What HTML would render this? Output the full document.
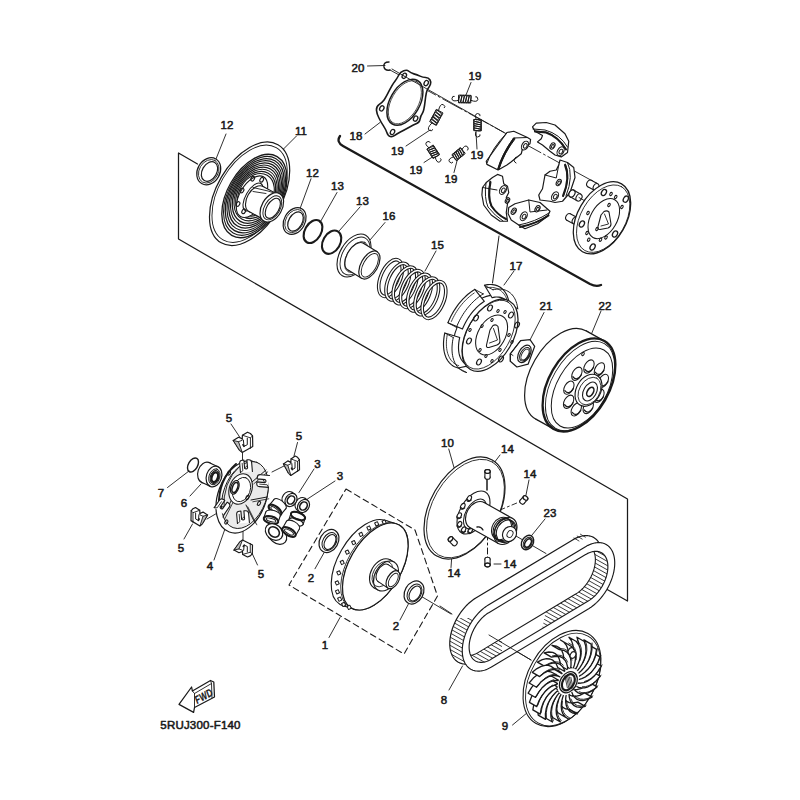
<!DOCTYPE html>
<html><head><meta charset="utf-8"><style>
html,body{margin:0;padding:0;background:#fff;}
svg{display:block;}
text{font-family:"Liberation Sans",sans-serif;fill:#1a1a1a;stroke:#1a1a1a;stroke-width:0.55;}
</style></head><body>
<svg width="800" height="800" viewBox="0 0 800 800" stroke="#1a1a1a" fill="none" stroke-linecap="round" stroke-linejoin="round">
<rect x="0" y="0" width="800" height="800" fill="#fff" stroke="none"/>
<path d="M197.5,164 L178.5,153 L178.5,239 L627.5,499 L627.5,601 L571,569" stroke-width="1.25" fill="none" />
<path d="M340,136 Q336,142 343,146 L590,284 Q596,287 601,285" stroke-width="2.3" fill="none" />
<path d="M499,236 Q496,258 492.5,283" stroke-width="1" fill="none" />
<path d="M346,489 L415,530 L437.5,596 L404,654 L289,585 Z" stroke-width="1.1" fill="none" stroke-dasharray="6,4"/>
<line x1="390" y1="70" x2="598" y2="184" stroke-width="0.9" stroke-dasharray="22,3,2,3"/>
<line x1="489" y1="635" x2="531" y2="660" stroke-width="0.9"/>
<line x1="440" y1="606" x2="452" y2="614" stroke-width="0.9"/>
<line x1="419" y1="595" x2="451" y2="614" stroke-width="0.9"/>
<line x1="510" y1="532.5" x2="546" y2="553.5" stroke-width="0.9"/>
<line x1="487.5" y1="478" x2="487.5" y2="560" stroke-width="1" stroke-dasharray="6,3,2,3"/>
<line x1="500" y1="510" x2="524" y2="500" stroke-width="0.9" stroke-dasharray="5,3,2,3"/>
<line x1="452.5" y1="541" x2="480" y2="526" stroke-width="0.9"/>
<line x1="226" y1="134" x2="216" y2="159" stroke-width="0.9"/>
<line x1="296.5" y1="136" x2="283.75" y2="148.75" stroke-width="0.9"/>
<line x1="311" y1="178.75" x2="300" y2="208.75" stroke-width="0.9"/>
<line x1="337" y1="192.5" x2="320" y2="222.5" stroke-width="0.9"/>
<line x1="360" y1="207" x2="339.4" y2="230.6" stroke-width="0.9"/>
<line x1="385" y1="222.5" x2="370" y2="240" stroke-width="0.9"/>
<line x1="436" y1="251" x2="425" y2="271" stroke-width="0.9"/>
<line x1="367.5" y1="66" x2="385" y2="65.5" stroke-width="0.9"/>
<line x1="365" y1="134" x2="380" y2="122.5" stroke-width="0.9"/>
<line x1="471" y1="82.5" x2="466" y2="95" stroke-width="0.9"/>
<line x1="406" y1="146" x2="430" y2="130" stroke-width="0.9"/>
<line x1="424" y1="162.5" x2="434" y2="156" stroke-width="0.9"/>
<line x1="477" y1="149" x2="476" y2="132.5" stroke-width="0.9"/>
<line x1="454" y1="172.5" x2="457.5" y2="159" stroke-width="0.9"/>
<line x1="514" y1="271" x2="504" y2="285" stroke-width="0.9"/>
<line x1="544" y1="312.5" x2="530" y2="340" stroke-width="0.9"/>
<line x1="601" y1="311" x2="591" y2="335" stroke-width="0.9"/>
<line x1="231" y1="424" x2="240" y2="437.5" stroke-width="0.9"/>
<line x1="297.5" y1="442.5" x2="294" y2="456" stroke-width="0.9"/>
<line x1="314" y1="469" x2="299" y2="492.5" stroke-width="0.9"/>
<line x1="335" y1="481" x2="307.5" y2="499" stroke-width="0.9"/>
<line x1="167.5" y1="487.5" x2="189" y2="471" stroke-width="0.9"/>
<line x1="190" y1="496" x2="201" y2="484" stroke-width="0.9"/>
<line x1="184" y1="539" x2="192.5" y2="524" stroke-width="0.9"/>
<line x1="214" y1="560" x2="226" y2="526" stroke-width="0.9"/>
<line x1="257.5" y1="565" x2="251" y2="551" stroke-width="0.9"/>
<line x1="315" y1="568.75" x2="325" y2="551" stroke-width="0.9"/>
<line x1="400" y1="620" x2="410" y2="601" stroke-width="0.9"/>
<line x1="329" y1="637.5" x2="340" y2="617.5" stroke-width="0.9"/>
<line x1="448.75" y1="449" x2="454" y2="467.5" stroke-width="0.9"/>
<line x1="500" y1="455" x2="488.75" y2="470" stroke-width="0.9"/>
<line x1="529" y1="480" x2="526" y2="495" stroke-width="0.9"/>
<line x1="451" y1="567.5" x2="452.5" y2="546" stroke-width="0.9"/>
<line x1="494" y1="564" x2="501" y2="564" stroke-width="0.9"/>
<line x1="545" y1="519" x2="530" y2="537.5" stroke-width="0.9"/>
<line x1="449" y1="690" x2="462.5" y2="666" stroke-width="0.9"/>
<line x1="512.5" y1="725" x2="527.5" y2="712.5" stroke-width="0.9"/>
<ellipse cx="208.75" cy="171.25" rx="14.19" ry="11.17" transform="rotate(-60 208.75 171.25)" stroke-width="1.2" fill="#fff" />
<ellipse cx="208.75" cy="171.25" rx="12.48" ry="9.46" transform="rotate(-60 208.75 171.25)" stroke-width="0.8" fill="none" />
<ellipse cx="209.5" cy="171.5" rx="10.51" ry="7.27" transform="rotate(-60 209.5 171.5)" stroke-width="1.2" fill="none" />
<ellipse cx="249.6" cy="193.75" rx="56.7" ry="32.77" transform="rotate(-60 249.6 193.75)" stroke-width="1.2" fill="#fff" />
<ellipse cx="249.6" cy="193.75" rx="53.2" ry="30.75" transform="rotate(-60 249.6 193.75)" stroke-width="0.9" fill="none" />
<ellipse cx="254.4" cy="196" rx="45.44" ry="27" transform="rotate(-60 254.4 196)" stroke-width="1.3" fill="none" />
<ellipse cx="254.57" cy="195.87" rx="42.9" ry="25.88" transform="rotate(-60 254.57 195.87)" stroke-width="1.1" fill="none" />
<ellipse cx="254.73" cy="195.73" rx="40.36" ry="24.76" transform="rotate(-60 254.73 195.73)" stroke-width="1.3" fill="none" />
<ellipse cx="254.9" cy="195.6" rx="37.82" ry="23.64" transform="rotate(-60 254.9 195.6)" stroke-width="1.1" fill="none" />
<ellipse cx="255.07" cy="195.47" rx="35.27" ry="22.51" transform="rotate(-60 255.07 195.47)" stroke-width="1.3" fill="none" />
<ellipse cx="255.23" cy="195.33" rx="32.73" ry="21.38" transform="rotate(-60 255.23 195.33)" stroke-width="1.1" fill="none" />
<ellipse cx="255.4" cy="195.2" rx="30.19" ry="20.24" transform="rotate(-60 255.4 195.2)" stroke-width="1.3" fill="none" />
<ellipse cx="255.57" cy="195.07" rx="27.64" ry="19.1" transform="rotate(-60 255.57 195.07)" stroke-width="1.1" fill="none" />
<ellipse cx="255.73" cy="194.93" rx="25.09" ry="17.95" transform="rotate(-60 255.73 194.93)" stroke-width="1.3" fill="none" />
<ellipse cx="255.9" cy="194.8" rx="22.54" ry="16.79" transform="rotate(-60 255.9 194.8)" stroke-width="1.1" fill="none" />
<ellipse cx="252" cy="196.7" rx="22.93" ry="12.39" transform="rotate(-60 252 196.7)" stroke-width="1.1" fill="#fff" />
<ellipse cx="252.7" cy="178.7" rx="2.48" ry="1.66" transform="rotate(-60 252.7 178.7)" stroke-width="1.1" fill="none" />
<ellipse cx="261.7" cy="179.8" rx="2.48" ry="1.66" transform="rotate(-60 261.7 179.8)" stroke-width="1.1" fill="none" />
<ellipse cx="242" cy="190.5" rx="2.48" ry="1.66" transform="rotate(-60 242 190.5)" stroke-width="1.1" fill="none" />
<ellipse cx="238" cy="204" rx="2.48" ry="1.66" transform="rotate(-60 238 204)" stroke-width="1.1" fill="none" />
<ellipse cx="243.7" cy="211.3" rx="2.48" ry="1.66" transform="rotate(-60 243.7 211.3)" stroke-width="1.1" fill="none" />
<ellipse cx="253" cy="197" rx="15.62" ry="7.21" transform="rotate(-60 253 197)" stroke-width="1.0" fill="none" />
<ellipse cx="256" cy="199" rx="14.36" ry="8.85" transform="rotate(-60 256 199)" stroke-width="1.1" fill="#fff" />
<path d="M263.01,186.47 L278.81,194.87 L264.79,219.93 L248.99,211.53 Z" stroke-width="0" fill="#fff" stroke="none"/>
<line x1="263.01" y1="186.47" x2="278.81" y2="194.87" stroke-width="1.1"/>
<line x1="248.99" y1="211.53" x2="264.79" y2="219.93" stroke-width="1.1"/>
<ellipse cx="271.8" cy="207.4" rx="15.82" ry="10.11" transform="rotate(-60 271.8 207.4)" stroke-width="1.2" fill="#fff" />
<ellipse cx="272.3" cy="207.8" rx="13.11" ry="7.78" transform="rotate(-60 272.3 207.8)" stroke-width="0.9" fill="none" />
<ellipse cx="272.8" cy="208.3" rx="11.01" ry="6.05" transform="rotate(-60 272.8 208.3)" stroke-width="1.1" fill="none" />
<path d="M253,187.5 L268,191 L273.5,192.7 M253,191.5 L266,193.5" stroke-width="0.9" fill="none" />
<ellipse cx="294.6" cy="221" rx="14.26" ry="10.42" transform="rotate(-60 294.6 221)" stroke-width="1.2" fill="#fff" />
<ellipse cx="294.6" cy="221" rx="12.4" ry="8.76" transform="rotate(-60 294.6 221)" stroke-width="0.8" fill="none" />
<ellipse cx="295.5" cy="221.5" rx="10.38" ry="6.72" transform="rotate(-60 295.5 221.5)" stroke-width="1.2" fill="none" />
<ellipse cx="313" cy="231.5" rx="12.42" ry="8.15" transform="rotate(-60 313 231.5)" stroke-width="2.1" fill="none" />
<ellipse cx="331.6" cy="242.2" rx="12.44" ry="8.59" transform="rotate(-60 331.6 242.2)" stroke-width="2.1" fill="none" />
<ellipse cx="354" cy="255.5" rx="23.43" ry="14.23" transform="rotate(-60 354 255.5)" stroke-width="1.1" fill="#fff" />
<ellipse cx="355" cy="256" rx="20.71" ry="12.53" transform="rotate(-60 355 256)" stroke-width="0.9" fill="none" />
<ellipse cx="356.5" cy="257" rx="16.98" ry="9.79" transform="rotate(-60 356.5 257)" stroke-width="0.8" fill="none" />
<ellipse cx="355.5" cy="256.5" rx="15.42" ry="8.4" transform="rotate(-60 355.5 256.5)" stroke-width="1.1" fill="#fff" />
<path d="M363.31,243.2 L377.21,251.7 L361.59,278.3 L347.69,269.8 Z" stroke-width="0" fill="#fff" stroke="none"/>
<line x1="363.31" y1="243.2" x2="377.21" y2="251.7" stroke-width="1.1"/>
<line x1="347.69" y1="269.8" x2="361.59" y2="278.3" stroke-width="1.1"/>
<ellipse cx="369.4" cy="265" rx="15.42" ry="8.4" transform="rotate(-60 369.4 265)" stroke-width="1.2" fill="#fff" />
<ellipse cx="369.8" cy="265.3" rx="13.11" ry="6.43" transform="rotate(-60 369.8 265.3)" stroke-width="0.9" fill="none" />
<ellipse cx="390.5" cy="278" rx="19.5" ry="9.8" transform="rotate(-67 390.5 278)" stroke-width="3.6" fill="none" />
<ellipse cx="390.5" cy="278" rx="19.5" ry="9.8" transform="rotate(-67 390.5 278)" stroke-width="1.5" fill="none" stroke="#fff" />
<ellipse cx="397.75" cy="281.67" rx="19.5" ry="9.8" transform="rotate(-67 397.75 281.67)" stroke-width="3.6" fill="none" />
<ellipse cx="397.75" cy="281.67" rx="19.5" ry="9.8" transform="rotate(-67 397.75 281.67)" stroke-width="1.5" fill="none" stroke="#fff" />
<ellipse cx="405" cy="285.33" rx="19.5" ry="9.8" transform="rotate(-67 405 285.33)" stroke-width="3.6" fill="none" />
<ellipse cx="405" cy="285.33" rx="19.5" ry="9.8" transform="rotate(-67 405 285.33)" stroke-width="1.5" fill="none" stroke="#fff" />
<ellipse cx="412.25" cy="289" rx="19.5" ry="9.8" transform="rotate(-67 412.25 289)" stroke-width="3.6" fill="none" />
<ellipse cx="412.25" cy="289" rx="19.5" ry="9.8" transform="rotate(-67 412.25 289)" stroke-width="1.5" fill="none" stroke="#fff" />
<ellipse cx="419.5" cy="292.67" rx="19.5" ry="9.8" transform="rotate(-67 419.5 292.67)" stroke-width="3.6" fill="none" />
<ellipse cx="419.5" cy="292.67" rx="19.5" ry="9.8" transform="rotate(-67 419.5 292.67)" stroke-width="1.5" fill="none" stroke="#fff" />
<ellipse cx="426.75" cy="296.33" rx="19.5" ry="9.8" transform="rotate(-67 426.75 296.33)" stroke-width="3.6" fill="none" />
<ellipse cx="426.75" cy="296.33" rx="19.5" ry="9.8" transform="rotate(-67 426.75 296.33)" stroke-width="1.5" fill="none" stroke="#fff" />
<ellipse cx="434" cy="300" rx="19.5" ry="9.8" transform="rotate(-67 434 300)" stroke-width="3.6" fill="none" />
<ellipse cx="434" cy="300" rx="19.5" ry="9.8" transform="rotate(-67 434 300)" stroke-width="1.5" fill="none" stroke="#fff" />
<path d="M398.7,75.25 Q400.4,71.9 403.75,70.75 Q407.1,69.6 408.8,71.3 Q410.5,73 413.85,73.85 Q417.2,74.7 420.05,76.1 Q422.9,77.5 425.7,77.5 Q428.5,77.5 429.9,79.75 Q431.3,82 430.45,84.25 Q429.6,86.5 427.9,88.75 Q426.2,91 425.1,101.1 Q424,111.2 422.3,113.45 Q420.6,115.7 420.05,119.1 Q419.5,122.5 416.7,123.6 Q413.9,124.7 408.8,127.55 Q403.7,130.4 400.35,132.05 Q397,133.7 394.75,135.4 Q392.5,137.1 390.25,136.55 Q388,136 386.85,132.6 Q385.7,129.2 383.45,125.85 Q381.2,122.5 378.95,118 Q376.7,113.5 376.45,110.1 Q376.2,106.7 379.3,104.45 Q382.4,102.2 384.05,99.95 Q385.7,97.7 389.1,90.95 Q392.5,84.2 394.75,81.4 Q397,78.6 398.7,75.25 Z" stroke-width="1.6" fill="#fff" />
<ellipse cx="404.9" cy="102.25" rx="25.13" ry="14.88" transform="rotate(-60 404.9 102.25)" stroke-width="1.5" fill="none" />
<ellipse cx="404.9" cy="102.25" rx="23.71" ry="13.42" transform="rotate(-60 404.9 102.25)" stroke-width="0.7" fill="none" />
<ellipse cx="404.3" cy="75.8" rx="2.78" ry="1.97" transform="rotate(-60 404.3 75.8)" stroke-width="1.3" fill="none" />
<ellipse cx="426.2" cy="83.1" rx="2.78" ry="1.97" transform="rotate(-60 426.2 83.1)" stroke-width="1.3" fill="none" />
<ellipse cx="381.8" cy="108.4" rx="2.78" ry="1.97" transform="rotate(-60 381.8 108.4)" stroke-width="1.3" fill="none" />
<ellipse cx="415.6" cy="118.6" rx="2.78" ry="1.97" transform="rotate(-60 415.6 118.6)" stroke-width="1.3" fill="none" />
<ellipse cx="392.5" cy="132" rx="2.78" ry="1.97" transform="rotate(-60 392.5 132)" stroke-width="1.3" fill="none" />
<line x1="392" y1="69" x2="404" y2="76" stroke-width="0.9"/>
<line x1="404" y1="76" x2="504" y2="132.5" stroke-width="0.9"/>
<path d="M389,62 Q383,62 384,67 Q385,71 390,70" stroke-width="1.4" fill="none" />
<path d="M458.82,102.73 L470.82,102.97 L470.98,95.37 L458.98,95.13 Z" stroke-width="1.0" fill="#fff" />
<ellipse cx="460.1" cy="98.95" rx="3.8" ry="1.15" transform="rotate(103.1457628381751 460.1 98.95)" stroke-width="1.0" fill="none" />
<ellipse cx="462.5" cy="99" rx="3.8" ry="1.15" transform="rotate(103.1457628381751 462.5 99)" stroke-width="1.0" fill="none" />
<ellipse cx="464.9" cy="99.05" rx="3.8" ry="1.15" transform="rotate(103.1457628381751 464.9 99.05)" stroke-width="1.0" fill="none" />
<ellipse cx="467.3" cy="99.1" rx="3.8" ry="1.15" transform="rotate(103.1457628381751 467.3 99.1)" stroke-width="1.0" fill="none" />
<ellipse cx="469.7" cy="99.15" rx="3.8" ry="1.15" transform="rotate(103.1457628381751 469.7 99.15)" stroke-width="1.0" fill="none" />
<path d="M458.88,100.13 Q452.33,102.3 451.9,98.79 Q452.47,95.3 454.25,96.24" stroke-width="1.0" fill="none" />
<path d="M470.88,100.37 Q477.33,102.8 477.9,99.31 Q477.47,95.8 475.65,96.66" stroke-width="1.0" fill="none" />
<path d="M436.15,109.69 L429.67,121.69 L436.35,125.31 L442.83,113.31 Z" stroke-width="1.0" fill="#fff" />
<ellipse cx="438.84" cy="112.7" rx="3.8" ry="1.15" transform="rotate(-139.6309537067214 438.84 112.7)" stroke-width="1.0" fill="none" />
<ellipse cx="437.55" cy="115.1" rx="3.8" ry="1.15" transform="rotate(-139.6309537067214 437.55 115.1)" stroke-width="1.0" fill="none" />
<ellipse cx="436.25" cy="117.5" rx="3.8" ry="1.15" transform="rotate(-139.6309537067214 436.25 117.5)" stroke-width="1.0" fill="none" />
<ellipse cx="434.95" cy="119.9" rx="3.8" ry="1.15" transform="rotate(-139.6309537067214 434.95 119.9)" stroke-width="1.0" fill="none" />
<ellipse cx="433.66" cy="122.3" rx="3.8" ry="1.15" transform="rotate(-139.6309537067214 433.66 122.3)" stroke-width="1.0" fill="none" />
<path d="M438.43,110.93 Q439.92,103.34 443.24,104.56 Q446.08,106.66 444.43,107.82" stroke-width="1.0" fill="none" />
<path d="M431.95,122.93 Q426.42,128.34 429.26,130.44 Q432.58,131.66 432.64,129.65" stroke-width="1.0" fill="none" />
<path d="M473.7,119.85 L473.7,130.65 L481.3,130.65 L481.3,119.85 Z" stroke-width="1.0" fill="#fff" />
<ellipse cx="477.5" cy="120.93" rx="3.8" ry="1.15" transform="rotate(192.0 477.5 120.93)" stroke-width="1.0" fill="none" />
<ellipse cx="477.5" cy="123.09" rx="3.8" ry="1.15" transform="rotate(192.0 477.5 123.09)" stroke-width="1.0" fill="none" />
<ellipse cx="477.5" cy="125.25" rx="3.8" ry="1.15" transform="rotate(192.0 477.5 125.25)" stroke-width="1.0" fill="none" />
<ellipse cx="477.5" cy="127.41" rx="3.8" ry="1.15" transform="rotate(192.0 477.5 127.41)" stroke-width="1.0" fill="none" />
<ellipse cx="477.5" cy="129.57" rx="3.8" ry="1.15" transform="rotate(192.0 477.5 129.57)" stroke-width="1.0" fill="none" />
<path d="M476.3,119.85 Q474,114 477.5,113.5 Q481,114 480.1,115.8" stroke-width="1.0" fill="none" />
<path d="M476.3,130.65 Q474,136.5 477.5,137 Q481,136.5 480.1,134.7" stroke-width="1.0" fill="none" />
<path d="M427.07,149.45 L433.07,158.61 L439.43,154.45 L433.43,145.29 Z" stroke-width="1.0" fill="#fff" />
<ellipse cx="430.85" cy="148.28" rx="3.8" ry="1.15" transform="rotate(158.79724813072374 430.85 148.28)" stroke-width="1.0" fill="none" />
<ellipse cx="432.05" cy="150.12" rx="3.8" ry="1.15" transform="rotate(158.79724813072374 432.05 150.12)" stroke-width="1.0" fill="none" />
<ellipse cx="433.25" cy="151.95" rx="3.8" ry="1.15" transform="rotate(158.79724813072374 433.25 151.95)" stroke-width="1.0" fill="none" />
<ellipse cx="434.45" cy="153.78" rx="3.8" ry="1.15" transform="rotate(158.79724813072374 434.45 153.78)" stroke-width="1.0" fill="none" />
<ellipse cx="435.65" cy="155.62" rx="3.8" ry="1.15" transform="rotate(158.79724813072374 435.65 155.62)" stroke-width="1.0" fill="none" />
<path d="M429.25,148.02 Q424.07,144.32 426.73,141.98 Q429.93,140.48 430.16,142.48" stroke-width="1.0" fill="none" />
<path d="M435.25,157.19 Q436.57,163.42 439.77,161.92 Q442.43,159.58 440.69,158.57" stroke-width="1.0" fill="none" />
<path d="M460.08,147.86 L451.82,154.82 L456.72,160.64 L464.98,153.68 Z" stroke-width="1.0" fill="#fff" />
<ellipse cx="461.7" cy="151.47" rx="3.8" ry="1.15" transform="rotate(-118.13166762531483 461.7 151.47)" stroke-width="1.0" fill="none" />
<ellipse cx="460.05" cy="152.86" rx="3.8" ry="1.15" transform="rotate(-118.13166762531483 460.05 152.86)" stroke-width="1.0" fill="none" />
<ellipse cx="458.4" cy="154.25" rx="3.8" ry="1.15" transform="rotate(-118.13166762531483 458.4 154.25)" stroke-width="1.0" fill="none" />
<ellipse cx="456.75" cy="155.64" rx="3.8" ry="1.15" transform="rotate(-118.13166762531483 456.75 155.64)" stroke-width="1.0" fill="none" />
<ellipse cx="455.1" cy="157.03" rx="3.8" ry="1.15" transform="rotate(-118.13166762531483 455.1 157.03)" stroke-width="1.0" fill="none" />
<path d="M461.75,149.85 Q464.74,144.32 467.38,146.68 Q469.26,149.68 467.3,150.15" stroke-width="1.0" fill="none" />
<path d="M453.5,156.81 Q447.54,158.82 449.42,161.82 Q452.06,164.18 452.85,162.33" stroke-width="1.0" fill="none" />
<path d="M486.25,161.25 L486.9,164.4 L498.1,170 L506.9,165 L511,162 L521.25,153.75 L522.5,148.75 L530,143.75 L530.6,139.4 L527.5,137.5 L513.75,131.25 L506.9,132.5 Z" stroke-width="1.2" fill="#fff" />
<path d="M487,163 Q492,148 506.9,133 M497.5,169.5 Q502,154 513.5,138 L527.5,137.5 M499,169 Q504,153 515,139" stroke-width="1.0" fill="none" />
<ellipse cx="525" cy="145.6" rx="4.77" ry="3.06" transform="rotate(-60 525 145.6)" stroke-width="1.1" fill="#fff" />
<ellipse cx="525.3" cy="145.9" rx="2.49" ry="1.64" transform="rotate(-60 525.3 145.9)" stroke-width="1.0" fill="none" />
<path d="M516,157 Q512,161 516,163" stroke-width="1.0" fill="none" />
<path d="M532.5,126.9 L536.25,123.1 L546.25,122.5 L555,125 L565,133.75 L568.75,141.25 L567.5,152.5 L561.25,156.9 L555,155 L550,151.25 L542.5,145 L537.5,141.9 L541.25,138.75 L542.5,135.6 L535,131.25 Z" stroke-width="1.2" fill="#fff" />
<path d="M533,129 L545,130 Q560,134 567.5,147 M535,131 L546,132 Q558,136 566,149" stroke-width="1.0" fill="none" />
<ellipse cx="560.6" cy="151.25" rx="4.77" ry="3.06" transform="rotate(-60 560.6 151.25)" stroke-width="1.1" fill="#fff" />
<ellipse cx="560.9" cy="151.55" rx="2.49" ry="1.64" transform="rotate(-60 560.9 151.55)" stroke-width="1.0" fill="none" />
<ellipse cx="552.5" cy="146" rx="3.41" ry="2.19" transform="rotate(-60 552.5 146)" stroke-width="1.1" fill="#fff" />
<ellipse cx="552.8" cy="146.3" rx="1.78" ry="1.17" transform="rotate(-60 552.8 146.3)" stroke-width="1.0" fill="none" />
<path d="M560,160 L567.5,162.5 L573.75,167.5 L575,177.5 L570,192.5 L562.5,201.25 L555,202.5 L550,201.25 L540,200 L538.75,195 L542.5,188.75 L545,175 L550,171.25 L556.25,170 L558.75,165 Z" stroke-width="1.2" fill="#fff" />
<path d="M567.5,162.5 Q574,176 566,196 M565.5,164 Q571,177 563.5,196 M545,175 L556.25,178 L558.75,165" stroke-width="1.0" fill="none" />
<ellipse cx="555" cy="196.25" rx="4.77" ry="3.06" transform="rotate(-60 555 196.25)" stroke-width="1.1" fill="#fff" />
<ellipse cx="555.3" cy="196.55" rx="2.49" ry="1.64" transform="rotate(-60 555.3 196.55)" stroke-width="1.0" fill="none" />
<ellipse cx="558.75" cy="182.5" rx="3.41" ry="2.19" transform="rotate(-60 558.75 182.5)" stroke-width="1.1" fill="#fff" />
<ellipse cx="559.05" cy="182.8" rx="1.78" ry="1.17" transform="rotate(-60 559.05 182.8)" stroke-width="1.0" fill="none" />
<path d="M486.25,182.5 L492.5,177.5 L497.5,174.4 L502.5,176.25 L503.75,183.75 L507.5,186.25 L508.75,192.5 L506.25,197.5 L507.5,203.75 L506.25,212.5 L507.5,221.25 L500,221.25 L491.25,215 L483.75,205 L481.9,195 L482.5,187.5 Z" stroke-width="1.2" fill="#fff" />
<path d="M486,183 Q484,198 488,207 Q495,216 503,221 M490,181 Q487,197 491,206 Q497,215 506,219 M482.5,187.5 L497,190" stroke-width="1.0" fill="none" />
<ellipse cx="503" cy="190" rx="4.77" ry="3.06" transform="rotate(-60 503 190)" stroke-width="1.1" fill="#fff" />
<ellipse cx="503.3" cy="190.3" rx="2.49" ry="1.64" transform="rotate(-60 503.3 190.3)" stroke-width="1.0" fill="none" />
<ellipse cx="507.5" cy="200.5" rx="2.96" ry="1.9" transform="rotate(-60 507.5 200.5)" stroke-width="1.1" fill="#fff" />
<ellipse cx="507.8" cy="200.8" rx="1.54" ry="1.02" transform="rotate(-60 507.8 200.8)" stroke-width="1.0" fill="none" />
<path d="M508.75,207.5 L515,203.75 L528.75,200 L540,202.5 L550,211.25 L547.5,216.25 L537.5,223.75 L525,228.75 L518.75,225 L511.25,220 L508.1,213.75 Z" stroke-width="1.2" fill="#fff" />
<path d="M518.75,225 Q535,222 549,213 M520,227 Q536,224 548.5,215 M528.75,200 L530,212 L547,210" stroke-width="1.0" fill="none" />
<ellipse cx="523.75" cy="216.25" rx="4.77" ry="3.06" transform="rotate(-60 523.75 216.25)" stroke-width="1.1" fill="#fff" />
<ellipse cx="524.05" cy="216.55" rx="2.49" ry="1.64" transform="rotate(-60 524.05 216.55)" stroke-width="1.0" fill="none" />
<ellipse cx="513.75" cy="211.25" rx="3.41" ry="2.19" transform="rotate(-60 513.75 211.25)" stroke-width="1.1" fill="#fff" />
<ellipse cx="514.05" cy="211.55" rx="1.78" ry="1.17" transform="rotate(-60 514.05 211.55)" stroke-width="1.0" fill="none" />
<ellipse cx="537.5" cy="208.75" rx="3.41" ry="2.19" transform="rotate(-60 537.5 208.75)" stroke-width="1.1" fill="#fff" />
<ellipse cx="537.8" cy="209.05" rx="1.78" ry="1.17" transform="rotate(-60 537.8 209.05)" stroke-width="1.0" fill="none" />
<path d="M498.5,169 Q503,154 514,138.5" stroke-width="2.0" fill="none" />
<path d="M535,131.5 L546,132.5 Q558,136.5 566,149.5" stroke-width="2.0" fill="none" />
<path d="M565,165 Q570.5,177.5 563,196" stroke-width="2.0" fill="none" />
<path d="M490.5,182 Q487.5,197 491.5,206 Q497.5,215 506,219" stroke-width="2.0" fill="none" />
<path d="M520,227 Q536,224 548.5,215.5" stroke-width="2.0" fill="none" />
<ellipse cx="589.5" cy="183.5" rx="3.6" ry="2.6" transform="rotate(-62 589.5 183.5)" stroke-width="1.1" fill="#fff" />
<path d="M591.2,180.33 L597.7,183.83 L594.3,190.17 L587.8,186.67 Z" stroke-width="0" fill="#fff" stroke="none"/>
<line x1="591.2" y1="180.33" x2="597.7" y2="183.83" stroke-width="1.1"/>
<line x1="587.8" y1="186.67" x2="594.3" y2="190.17" stroke-width="1.1"/>
<ellipse cx="596" cy="187" rx="3.6" ry="2.6" transform="rotate(-62 596 187)" stroke-width="1.1" fill="#fff" />
<ellipse cx="572" cy="193.5" rx="3.8" ry="2.8" transform="rotate(-62 572 193.5)" stroke-width="1.1" fill="#fff" />
<path d="M573.84,190.18 L580.84,194.18 L577.16,200.82 L570.16,196.82 Z" stroke-width="0" fill="#fff" stroke="none"/>
<line x1="573.84" y1="190.18" x2="580.84" y2="194.18" stroke-width="1.1"/>
<line x1="570.16" y1="196.82" x2="577.16" y2="200.82" stroke-width="1.1"/>
<ellipse cx="579" cy="197.5" rx="3.8" ry="2.8" transform="rotate(-62 579 197.5)" stroke-width="1.1" fill="#fff" />
<ellipse cx="572" cy="193.5" rx="3.8" ry="2.8" transform="rotate(-62 572 193.5)" stroke-width="1.2" fill="#fff" />
<line x1="579" y1="197.5" x2="585" y2="201" stroke-width="0.9"/>
<ellipse cx="568.5" cy="217" rx="3.6" ry="2.6" transform="rotate(-62 568.5 217)" stroke-width="1.1" fill="#fff" />
<path d="M570.2,213.83 L576.7,217.33 L573.3,223.67 L566.8,220.17 Z" stroke-width="0" fill="#fff" stroke="none"/>
<line x1="570.2" y1="213.83" x2="576.7" y2="217.33" stroke-width="1.1"/>
<line x1="566.8" y1="220.17" x2="573.3" y2="223.67" stroke-width="1.1"/>
<ellipse cx="575" cy="220.5" rx="3.6" ry="2.6" transform="rotate(-62 575 220.5)" stroke-width="1.1" fill="#fff" />
<ellipse cx="602" cy="217.8" rx="39.14" ry="24.24" transform="rotate(-60 602 217.8)" stroke-width="1.25" fill="#fff" />
<ellipse cx="603.2" cy="218.6" rx="36.84" ry="22.32" transform="rotate(-60 603.2 218.6)" stroke-width="0.8" fill="none" />
<ellipse cx="603.8" cy="218.6" rx="21.8" ry="13.21" transform="rotate(-60 603.8 218.6)" stroke-width="1.05" fill="none" />
<path d="M604,211.5 Q607,210 609,212 L611,224 Q611,227 608,228 L600,229.5 Q597,229.5 598,226.5 L601,215 Z" stroke-width="1.1" fill="none" />
<path d="M604.5,214 L608.5,224 L601,226" stroke-width="0.9" fill="none" />
<ellipse cx="603.9" cy="192.5" rx="3.32" ry="2.31" transform="rotate(-60 603.9 192.5)" stroke-width="1.25" fill="none" />
<ellipse cx="625.8" cy="199.2" rx="3.32" ry="2.31" transform="rotate(-60 625.8 199.2)" stroke-width="1.25" fill="none" />
<ellipse cx="581.9" cy="224" rx="3.32" ry="2.31" transform="rotate(-60 581.9 224)" stroke-width="1.25" fill="none" />
<ellipse cx="615" cy="234" rx="3.32" ry="2.31" transform="rotate(-60 615 234)" stroke-width="1.25" fill="none" />
<ellipse cx="592.6" cy="247" rx="3.32" ry="2.31" transform="rotate(-60 592.6 247)" stroke-width="1.25" fill="none" />
<ellipse cx="611" cy="194" rx="1.73" ry="1.12" transform="rotate(-60 611 194)" stroke-width="1.05" fill="none" />
<ellipse cx="615.7" cy="197" rx="1.73" ry="1.12" transform="rotate(-60 615.7 197)" stroke-width="1.05" fill="none" />
<ellipse cx="588" cy="213" rx="1.73" ry="1.12" transform="rotate(-60 588 213)" stroke-width="1.05" fill="none" />
<ellipse cx="621.9" cy="207" rx="1.73" ry="1.12" transform="rotate(-60 621.9 207)" stroke-width="1.05" fill="none" />
<ellipse cx="587" cy="233" rx="1.73" ry="1.12" transform="rotate(-60 587 233)" stroke-width="1.05" fill="none" />
<ellipse cx="588.7" cy="239.7" rx="1.73" ry="1.12" transform="rotate(-60 588.7 239.7)" stroke-width="1.05" fill="none" />
<ellipse cx="606" cy="237.5" rx="1.73" ry="1.12" transform="rotate(-60 606 237.5)" stroke-width="1.05" fill="none" />
<ellipse cx="600.5" cy="239.7" rx="1.73" ry="1.12" transform="rotate(-60 600.5 239.7)" stroke-width="1.05" fill="none" />
<ellipse cx="609" cy="205" rx="1.73" ry="1.12" transform="rotate(-60 609 205)" stroke-width="1.05" fill="none" />
<ellipse cx="597" cy="229" rx="1.73" ry="1.12" transform="rotate(-60 597 229)" stroke-width="1.05" fill="none" />
<ellipse cx="480" cy="330.5" rx="38.38" ry="21.93" transform="rotate(-60 480 330.5)" stroke-width="1.1" fill="#fff" />
<path d="M498.35,296.82 L508.35,301.62 L471.65,368.98 L461.65,364.18 Z" stroke-width="0" fill="#fff" stroke="none"/>
<line x1="498.35" y1="296.82" x2="508.35" y2="301.62" stroke-width="1.1"/>
<line x1="461.65" y1="364.18" x2="471.65" y2="368.98" stroke-width="1.1"/>
<path d="M484.48,285.27 L486.14,284.9 L487.78,284.66 L489.39,284.52 L490.96,284.51 L492.5,284.6 L493.98,284.82 L495.42,285.14 L496.81,285.58 L498.15,286.14 L499.42,286.8 L500.63,287.57 L501.78,288.45 L502.85,289.43 L503.86,290.52 L504.78,291.7 L505.64,292.98 L506.41,294.35 L507.1,295.81 L507.7,297.35 L508.22,298.97 L508.65,300.67 L509,302.44 L509.25,304.27 L511.38,312.75 L511.22,311.26 L510.98,309.82 L510.67,308.45 L510.29,307.14 L509.84,305.89 L509.32,304.72 L508.74,303.62 L508.09,302.59 L507.38,301.64 L506.6,300.78 L505.77,300 L504.88,299.31 L503.94,298.7 L502.94,298.19 L501.89,297.76 L500.8,297.43 L499.67,297.19 L498.49,297.05 L497.28,297 L496.03,297.04 L494.76,297.18 L493.46,297.42 L492.13,297.74 Z" stroke-width="1.15" fill="#fff" />
<path d="M492.98,289.77 L494.64,289.4 L496.28,289.16 L497.89,289.02 L499.46,289.01 L501,289.1 L502.48,289.32 L503.92,289.64 L505.31,290.08 L506.65,290.64 L507.92,291.3 L509.13,292.07 L510.28,292.95 L511.35,293.93 L512.36,295.02 L513.28,296.2 L514.14,297.48 L514.91,298.85 L515.6,300.31 L516.2,301.85 L516.72,303.47 L517.15,305.17 L517.5,306.94 L517.75,308.77" stroke-width="1.0" fill="none" />
<path d="M486.6,287.76 L488.14,287.53 L489.66,287.41 L491.14,287.39 L492.59,287.48 L493.99,287.68 L495.35,287.99 L496.66,288.4 L497.92,288.93 L499.12,289.55 L500.26,290.28 L501.34,291.11 L502.36,292.03 L503.3,293.06 L504.18,294.17 L504.98,295.38 L505.71,296.67 L506.36,298.05 L506.93,299.5 L507.42,301.03 L507.83,302.63 L508.15,304.3" stroke-width="0.85" fill="none" />
<line x1="484.48" y1="285.27" x2="492.98" y2="289.77" stroke-width="0.9"/>
<line x1="509.25" y1="304.27" x2="517.75" y2="308.77" stroke-width="0.9"/>
<path d="M447.92,322.8 L448.82,320.62 L449.8,318.45 L450.85,316.31 L451.97,314.19 L453.16,312.1 L454.42,310.06 L455.73,308.06 L457.1,306.11 L458.52,304.21 L460,302.38 L461.52,300.61 L463.07,298.92 L464.67,297.3 L466.3,295.76 L467.96,294.3 L469.64,292.94 L471.33,291.66 L473.05,290.48 L474.77,289.4 L484.36,301.3 L482.97,302.22 L481.59,303.21 L480.22,304.29 L478.86,305.43 L477.52,306.65 L476.2,307.94 L474.9,309.29 L473.64,310.7 L472.4,312.17 L471.2,313.69 L470.03,315.26 L468.91,316.88 L467.83,318.53 L466.79,320.23 L465.81,321.95 L464.88,323.7 L464.01,325.47 L463.19,327.25 L462.43,329.05 Z" stroke-width="1.15" fill="#fff" />
<path d="M456.42,327.3 L457.32,325.12 L458.3,322.95 L459.35,320.81 L460.47,318.69 L461.66,316.6 L462.92,314.56 L464.23,312.56 L465.6,310.61 L467.02,308.71 L468.5,306.88 L470.02,305.11 L471.57,303.42 L473.17,301.8 L474.8,300.26 L476.46,298.8 L478.14,297.44 L479.83,296.16 L481.55,294.98 L483.27,293.9" stroke-width="1.0" fill="none" />
<path d="M451.39,321.45 L452.31,319.41 L453.31,317.38 L454.36,315.39 L455.49,313.42 L456.67,311.49 L457.91,309.6 L459.2,307.76 L460.54,305.98 L461.93,304.25 L463.36,302.58 L464.84,300.98 L466.34,299.46 L467.88,298 L469.44,296.63 L471.02,295.34 L472.63,294.14 L474.24,293.02" stroke-width="0.85" fill="none" />
<line x1="447.92" y1="322.8" x2="456.42" y2="327.3" stroke-width="0.9"/>
<line x1="474.77" y1="289.4" x2="483.27" y2="293.9" stroke-width="0.9"/>
<path d="M458.05,367.98 L456.64,367.57 L455.29,367.06 L454,366.43 L452.76,365.7 L451.6,364.85 L450.5,363.91 L449.47,362.86 L448.52,361.71 L447.64,360.46 L446.84,359.12 L446.12,357.69 L445.49,356.17 L444.94,354.58 L444.48,352.9 L444.11,351.16 L443.82,349.35 L443.63,347.47 L443.52,345.54 L443.5,343.55 L443.58,341.52 L443.75,339.45 L444,337.34 L444.34,335.2 L444.78,333.04 L459.74,337.45 L459.36,339.22 L459.04,340.97 L458.8,342.69 L458.63,344.38 L458.53,346.04 L458.5,347.66 L458.55,349.23 L458.66,350.76 L458.86,352.23 L459.12,353.64 L459.45,355 L459.85,356.29 L460.33,357.51 L460.87,358.66 L461.47,359.74 L462.14,360.73 L462.87,361.65 L463.67,362.49 L464.52,363.24 L465.43,363.9 L466.39,364.48 L467.4,364.96 L468.46,365.36 L469.57,365.66 Z" stroke-width="1.15" fill="#fff" />
<path d="M466.55,372.48 L465.14,372.07 L463.79,371.56 L462.5,370.93 L461.26,370.2 L460.1,369.35 L459,368.41 L457.97,367.36 L457.02,366.21 L456.14,364.96 L455.34,363.62 L454.62,362.19 L453.99,360.67 L453.44,359.08 L452.98,357.4 L452.61,355.66 L452.32,353.85 L452.13,351.97 L452.02,350.04 L452,348.05 L452.08,346.02 L452.25,343.95 L452.5,341.84 L452.84,339.7 L453.28,337.54" stroke-width="1.0" fill="none" />
<path d="M458.77,365.75 L457.49,365.26 L456.27,364.67 L455.11,363.97 L454.01,363.18 L452.97,362.28 L452,361.29 L451.1,360.21 L450.28,359.03 L449.52,357.77 L448.85,356.42 L448.25,354.99 L447.73,353.49 L447.3,351.91 L446.94,350.26 L446.68,348.55 L446.49,346.78 L446.39,344.96 L446.38,343.08 L446.45,341.17 L446.6,339.21 L446.84,337.22 L447.17,335.2" stroke-width="0.85" fill="none" />
<line x1="458.05" y1="367.98" x2="466.55" y2="372.48" stroke-width="0.9"/>
<line x1="444.78" y1="333.04" x2="453.28" y2="337.54" stroke-width="0.9"/>
<ellipse cx="490" cy="335.3" rx="39.4" ry="22.98" transform="rotate(-60 490 335.3)" stroke-width="1.25" fill="#fff" />
<ellipse cx="488.8" cy="334.6" rx="37.87" ry="21.41" transform="rotate(-60 488.8 334.6)" stroke-width="0.8" fill="none" />
<ellipse cx="491.6" cy="335" rx="21.73" ry="13.56" transform="rotate(-60 491.6 335)" stroke-width="1.05" fill="none" />
<path d="M493,325.5 Q496,324 498,326.5 L500,341 Q500,344 497,345 L489,347.5 Q486,348 486.5,345 L490,330 Z" stroke-width="1.1" fill="none" />
<path d="M493.5,328.5 L497.5,340 L489.5,343" stroke-width="0.9" fill="none" />
<ellipse cx="490" cy="308" rx="3.12" ry="2.11" transform="rotate(-60 490 308)" stroke-width="1.2" fill="none" />
<ellipse cx="511" cy="315" rx="3.12" ry="2.11" transform="rotate(-60 511 315)" stroke-width="1.2" fill="none" />
<ellipse cx="469" cy="341" rx="3.12" ry="2.11" transform="rotate(-60 469 341)" stroke-width="1.2" fill="none" />
<ellipse cx="501" cy="359" rx="3.12" ry="2.11" transform="rotate(-60 501 359)" stroke-width="1.2" fill="none" />
<ellipse cx="517" cy="325" rx="3.12" ry="2.11" transform="rotate(-60 517 325)" stroke-width="1.2" fill="none" />
<ellipse cx="479" cy="362" rx="3.12" ry="2.11" transform="rotate(-60 479 362)" stroke-width="1.2" fill="none" />
<ellipse cx="476" cy="318" rx="3.12" ry="2.11" transform="rotate(-60 476 318)" stroke-width="1.2" fill="none" />
<ellipse cx="498" cy="311" rx="1.63" ry="1.02" transform="rotate(-60 498 311)" stroke-width="1.05" fill="none" />
<ellipse cx="505" cy="312" rx="1.63" ry="1.02" transform="rotate(-60 505 312)" stroke-width="1.05" fill="none" />
<ellipse cx="482" cy="326" rx="1.63" ry="1.02" transform="rotate(-60 482 326)" stroke-width="1.05" fill="none" />
<ellipse cx="492" cy="320" rx="1.63" ry="1.02" transform="rotate(-60 492 320)" stroke-width="1.05" fill="none" />
<ellipse cx="480" cy="350" rx="1.63" ry="1.02" transform="rotate(-60 480 350)" stroke-width="1.05" fill="none" />
<ellipse cx="486" cy="356" rx="1.63" ry="1.02" transform="rotate(-60 486 356)" stroke-width="1.05" fill="none" />
<ellipse cx="500" cy="350" rx="1.63" ry="1.02" transform="rotate(-60 500 350)" stroke-width="1.05" fill="none" />
<ellipse cx="509" cy="335" rx="1.63" ry="1.02" transform="rotate(-60 509 335)" stroke-width="1.05" fill="none" />
<ellipse cx="512" cy="342" rx="1.63" ry="1.02" transform="rotate(-60 512 342)" stroke-width="1.05" fill="none" />
<ellipse cx="492" cy="361" rx="1.63" ry="1.02" transform="rotate(-60 492 361)" stroke-width="1.05" fill="none" />
<ellipse cx="470" cy="330" rx="1.63" ry="1.02" transform="rotate(-60 470 330)" stroke-width="1.05" fill="none" />
<path d="M510.3,353.8 L520.6,340.6 L530,339.7 L534.7,346.3 L528.1,364.2 L516.9,367 L510.3,361.3 Z" stroke-width="1.2" fill="#fff" />
<path d="M510.3,353.8 L520.6,340.6 M510.3,353.8 L510.3,361.3 M510.3,353.8 L513,355.5" stroke-width="0.9" fill="none" />
<ellipse cx="524.4" cy="353.8" rx="9.51" ry="5.61" transform="rotate(-60 524.4 353.8)" stroke-width="1.2" fill="#fff" />
<ellipse cx="524.8" cy="354.2" rx="7.47" ry="4.18" transform="rotate(-60 524.8 354.2)" stroke-width="1.0" fill="none" />
<ellipse cx="525" cy="354.5" rx="5.98" ry="3.07" transform="rotate(-60 525 354.5)" stroke-width="0.9" fill="none" />
<ellipse cx="561" cy="375" rx="50.8" ry="30.11" transform="rotate(-60 561 375)" stroke-width="1.2" fill="#fff" />
<path d="M586.15,330.86 L604.15,340.86 L553.85,429.14 L535.85,419.14 Z" stroke-width="0" fill="#fff" stroke="none"/>
<line x1="586.15" y1="330.86" x2="604.15" y2="340.86" stroke-width="1.2"/>
<line x1="535.85" y1="419.14" x2="553.85" y2="429.14" stroke-width="1.2"/>
<ellipse cx="579" cy="385" rx="50.8" ry="30.11" transform="rotate(-60 579 385)" stroke-width="2.3" fill="#fff" />
<ellipse cx="580" cy="386" rx="48.84" ry="28.3" transform="rotate(-60 580 386)" stroke-width="0.9" fill="none" />
<ellipse cx="582" cy="388" rx="43.9" ry="24.87" transform="rotate(-60 582 388)" stroke-width="1.0" fill="none" />
<ellipse cx="599.4" cy="369.3" rx="7.2" ry="4.33" transform="rotate(-60 599.4 369.3)" stroke-width="1.05" fill="#fff" />
<path d="M595.4,372.3 Q599.4,377.3 603.9,370.3" stroke-width="1.3" fill="none" />
<ellipse cx="603.34" cy="380.86" rx="7.2" ry="4.33" transform="rotate(-60 603.34 380.86)" stroke-width="1.05" fill="#fff" />
<path d="M599.34,383.86 Q603.34,388.86 607.84,381.86" stroke-width="1.3" fill="none" />
<ellipse cx="598.93" cy="395.75" rx="7.2" ry="4.33" transform="rotate(-60 598.93 395.75)" stroke-width="1.05" fill="#fff" />
<path d="M594.93,398.75 Q598.93,403.75 603.43,396.75" stroke-width="1.3" fill="none" />
<ellipse cx="588.24" cy="407.02" rx="7.2" ry="4.33" transform="rotate(-60 588.24 407.02)" stroke-width="1.05" fill="#fff" />
<path d="M584.24,410.02 Q588.24,415.02 592.74,408.02" stroke-width="1.3" fill="none" />
<ellipse cx="576.26" cy="409.39" rx="7.2" ry="4.33" transform="rotate(-60 576.26 409.39)" stroke-width="1.05" fill="#fff" />
<path d="M572.26,412.39 Q576.26,417.39 580.76,410.39" stroke-width="1.3" fill="none" />
<ellipse cx="568.61" cy="401.75" rx="7.2" ry="4.33" transform="rotate(-60 568.61 401.75)" stroke-width="1.05" fill="#fff" />
<path d="M564.61,404.75 Q568.61,409.75 573.11,402.75" stroke-width="1.3" fill="none" />
<ellipse cx="568.86" cy="387.67" rx="7.2" ry="4.33" transform="rotate(-60 568.86 387.67)" stroke-width="1.05" fill="#fff" />
<path d="M564.86,390.67 Q568.86,395.67 573.36,388.67" stroke-width="1.3" fill="none" />
<ellipse cx="576.9" cy="373.75" rx="7.2" ry="4.33" transform="rotate(-60 576.9 373.75)" stroke-width="1.05" fill="#fff" />
<path d="M572.9,376.75 Q576.9,381.75 581.4,374.75" stroke-width="1.3" fill="none" />
<ellipse cx="588.96" cy="366.5" rx="7.2" ry="4.33" transform="rotate(-60 588.96 366.5)" stroke-width="1.05" fill="#fff" />
<path d="M584.96,369.5 Q588.96,374.5 593.46,367.5" stroke-width="1.3" fill="none" />
<ellipse cx="588.5" cy="390.3" rx="17.11" ry="12.06" transform="rotate(-60 588.5 390.3)" stroke-width="1.15" fill="#fff" />
<ellipse cx="589.5" cy="391" rx="14.82" ry="10.16" transform="rotate(-60 589.5 391)" stroke-width="0.8" fill="none" />
<ellipse cx="590" cy="391.5" rx="10.22" ry="6.34" transform="rotate(-60 590 391.5)" stroke-width="1.1" fill="none" />
<ellipse cx="590.3" cy="391.8" rx="5.03" ry="2.98" transform="rotate(-60 590.3 391.8)" stroke-width="1.6" fill="none" />
<ellipse cx="583" cy="354" rx="1.73" ry="1.12" transform="rotate(-60 583 354)" stroke-width="1" fill="none" />
<line x1="242.5" y1="450" x2="242.5" y2="462" stroke-width="0.9"/>
<line x1="272" y1="472" x2="286" y2="465" stroke-width="0.9"/>
<line x1="207" y1="519" x2="219" y2="512" stroke-width="0.9"/>
<line x1="243" y1="524" x2="243" y2="541" stroke-width="0.9"/>
<ellipse cx="242" cy="497" rx="37.29" ry="24.11" transform="rotate(-70 242 497)" stroke-width="1.2" fill="#fff" />
<ellipse cx="245" cy="495" rx="34.77" ry="21.57" transform="rotate(-70 245 495)" stroke-width="0.9" fill="#ebebeb" />
<path d="M219,506 Q218,480 236,464" stroke-width="2.0" fill="none" />
<path d="M224,510 Q222,482 240,466" stroke-width="0.9" fill="none" />
<line x1="252" y1="482" x2="266" y2="470" stroke-width="1.0"/>
<line x1="253.8" y1="483.8" x2="267.8" y2="471.8" stroke-width="0.8"/>
<line x1="251" y1="500" x2="267" y2="497" stroke-width="1.0"/>
<line x1="252.8" y1="501.8" x2="268.8" y2="498.8" stroke-width="0.8"/>
<line x1="246" y1="505" x2="255" y2="523" stroke-width="1.0"/>
<line x1="247.8" y1="506.8" x2="256.8" y2="524.8" stroke-width="0.8"/>
<line x1="232" y1="499" x2="223" y2="517" stroke-width="1.0"/>
<line x1="233.8" y1="500.8" x2="224.8" y2="518.8" stroke-width="0.8"/>
<ellipse cx="240.6" cy="489" rx="15.65" ry="11.19" transform="rotate(-70 240.6 489)" stroke-width="1.1" fill="#fff" />
<ellipse cx="241.5" cy="489.5" rx="12.6" ry="8.65" transform="rotate(-70 241.5 489.5)" stroke-width="0.9" fill="none" />
<ellipse cx="234.8" cy="487.3" rx="7.1" ry="3.91" transform="rotate(-70 234.8 487.3)" stroke-width="1.2" fill="#fff" />
<ellipse cx="235" cy="487.5" rx="5.24" ry="2.56" transform="rotate(-70 235 487.5)" stroke-width="1.5" fill="none" />
<ellipse cx="247.4" cy="497.5" rx="2.17" ry="1.36" transform="rotate(-60 247.4 497.5)" stroke-width="1.1" fill="none" />
<ellipse cx="259" cy="503.4" rx="2.17" ry="1.36" transform="rotate(-60 259 503.4)" stroke-width="1.1" fill="none" />
<ellipse cx="226.3" cy="522" rx="2.17" ry="1.36" transform="rotate(-60 226.3 522)" stroke-width="1.1" fill="none" />
<ellipse cx="229" cy="473" rx="2.17" ry="1.36" transform="rotate(-60 229 473)" stroke-width="1.1" fill="none" />
<g transform="translate(246 467) rotate(-5)"><path d="M-6,5 L-6,-4 Q-6,-7 -3,-7 L-1.5,-7 L-1.5,1 Q0,3 1.5,1 L1.5,-7 L3,-7 Q6,-7 6,-4 L6,5" stroke-width="1.1" fill="#fff"/><path d="M-1.5,1 L1,-1 M-6,5 L-3.5,3.5 L-3.5,-4" stroke-width="0.8"/></g>
<g transform="translate(264 481) rotate(-85)"><path d="M-6,5 L-6,-4 Q-6,-7 -3,-7 L-1.5,-7 L-1.5,1 Q0,3 1.5,1 L1.5,-7 L3,-7 Q6,-7 6,-4 L6,5" stroke-width="1.1" fill="#fff"/><path d="M-1.5,1 L1,-1 M-6,5 L-3.5,3.5 L-3.5,-4" stroke-width="0.8"/></g>
<g transform="translate(222 507) rotate(35)"><path d="M-6,5 L-6,-4 Q-6,-7 -3,-7 L-1.5,-7 L-1.5,1 Q0,3 1.5,1 L1.5,-7 L3,-7 Q6,-7 6,-4 L6,5" stroke-width="1.1" fill="#fff"/><path d="M-1.5,1 L1,-1 M-6,5 L-3.5,3.5 L-3.5,-4" stroke-width="0.8"/></g>
<g transform="translate(243 518) rotate(-5)"><path d="M-6,5 L-6,-4 Q-6,-7 -3,-7 L-1.5,-7 L-1.5,1 Q0,3 1.5,1 L1.5,-7 L3,-7 Q6,-7 6,-4 L6,5" stroke-width="1.1" fill="#fff"/><path d="M-1.5,1 L1,-1 M-6,5 L-3.5,3.5 L-3.5,-4" stroke-width="0.8"/></g>
<path d="M233.25,440.48 L238.51,437.25 L242.22,438.76 L242.41,435.23 L247.49,432.2 L250.41,433.51 L252.56,435.84 L252.75,446.54 L242.22,452.4 L239.29,449.98 Z" stroke-width="1.2" fill="#fff" />
<path d="M233.25,440.48 L238.51,441.69 L242.22,452.4 L239.29,449.98 L233.25,440.48" stroke-width="0.9" fill="#bbb" />
<path d="M238.51,441.69 L242.22,440.28 L242.22,438.76 M242.41,435.23 L250.41,437.86 L252.56,435.84 M250.41,437.86 L250.41,448.36" stroke-width="0.9" fill="none" />
<path d="M243.39,440.08 L243.97,446.34 L247.29,444.72 L247.29,438.26" stroke-width="1.0" fill="none" />
<path d="M243.97,446.34 L243,444.72" stroke-width="1.6" fill="none" />
<path d="M283.5,464 L287.82,460.88 L290.86,462.34 L291.02,458.93 L295.18,456 L297.58,457.27 L299.34,459.51 L299.5,469.85 L290.86,475.5 L288.46,473.16 Z" stroke-width="1.2" fill="#fff" />
<path d="M283.5,464 L287.82,465.17 L290.86,475.5 L288.46,473.16 L283.5,464" stroke-width="0.9" fill="#bbb" />
<path d="M287.82,465.17 L290.86,463.8 L290.86,462.34 M291.02,458.93 L297.58,461.46 L299.34,459.51 M297.58,461.46 L297.58,471.6" stroke-width="0.9" fill="none" />
<path d="M291.82,463.61 L292.3,469.65 L295.02,468.09 L295.02,461.85" stroke-width="1.0" fill="none" />
<path d="M292.3,469.65 L291.5,468.09" stroke-width="1.6" fill="none" />
<path d="M207.5,515.09 L203.04,512.12 L199.91,513.51 L199.75,510.27 L195.46,507.5 L192.98,508.7 L191.16,510.83 L191,520.63 L199.91,526 L202.38,523.78 Z" stroke-width="1.2" fill="#fff" />
<path d="M207.5,515.09 L203.04,516.2 L199.91,526 L202.38,523.78 L207.5,515.09" stroke-width="0.9" fill="#bbb" />
<path d="M203.04,516.2 L199.91,514.9 L199.91,513.51 M199.75,510.27 L192.98,512.68 L191.16,510.83 M192.98,512.68 L192.98,522.3" stroke-width="0.9" fill="none" />
<path d="M198.92,514.72 L198.43,520.45 L195.62,518.97 L195.62,513.05" stroke-width="1.0" fill="none" />
<path d="M198.43,520.45 L199.25,518.97" stroke-width="1.6" fill="none" />
<path d="M234,550.03 L239,552.75 L242.51,551.48 L242.69,554.45 L247.5,557 L250.28,555.89 L252.31,553.94 L252.5,544.93 L242.51,540 L239.74,542.04 Z" stroke-width="1.2" fill="#fff" />
<path d="M234,550.03 L239,549.01 L242.51,540 L239.74,542.04 L234,550.03" stroke-width="0.9" fill="#bbb" />
<path d="M239,549.01 L242.51,550.2 L242.51,551.48 M242.69,554.45 L250.28,552.24 L252.31,553.94 M250.28,552.24 L250.28,543.4" stroke-width="0.9" fill="none" />
<path d="M243.62,550.37 L244.18,545.1 L247.32,546.46 L247.32,551.9" stroke-width="1.0" fill="none" />
<path d="M244.18,545.1 L243.25,546.46" stroke-width="1.6" fill="none" />
<ellipse cx="193" cy="465" rx="7.64" ry="4.57" transform="rotate(-60 193 465)" stroke-width="1.4" fill="none" />
<ellipse cx="205.5" cy="472.5" rx="10.6" ry="7.6" transform="rotate(-72 205.5 472.5)" stroke-width="1.15" fill="#fff" />
<path d="M209.41,462.67 L217.91,466.67 L210.09,486.33 L201.59,482.33 Z" stroke-width="0" fill="#fff" stroke="none"/>
<line x1="209.41" y1="462.67" x2="217.91" y2="466.67" stroke-width="1.15"/>
<line x1="201.59" y1="482.33" x2="210.09" y2="486.33" stroke-width="1.15"/>
<ellipse cx="214" cy="476.5" rx="10.6" ry="7.6" transform="rotate(-72 214 476.5)" stroke-width="1.2" fill="#fff" />
<ellipse cx="214.4" cy="476.8" rx="8.2" ry="5.4" transform="rotate(-72 214.4 476.8)" stroke-width="0.9" fill="none" />
<ellipse cx="214.6" cy="477" rx="6.6" ry="4.2" transform="rotate(-72 214.6 477)" stroke-width="1.1" fill="none" />
<ellipse cx="214.8" cy="477.2" rx="5" ry="3" transform="rotate(-72 214.8 477.2)" stroke-width="2.2" fill="none" />
<ellipse cx="301" cy="504" rx="7" ry="5.5" transform="rotate(-55 301 504)" stroke-width="1.1" fill="#fff" />
<path d="M305.24,498.43 L307.74,500.43 L299.26,511.57 L296.76,509.57 Z" stroke-width="0" fill="#fff" stroke="none"/>
<line x1="305.24" y1="498.43" x2="307.74" y2="500.43" stroke-width="1.1"/>
<line x1="296.76" y1="509.57" x2="299.26" y2="511.57" stroke-width="1.1"/>
<ellipse cx="303.5" cy="506" rx="7" ry="5.5" transform="rotate(-55 303.5 506)" stroke-width="1.2" fill="#fff" />
<ellipse cx="303.5" cy="506" rx="4.34" ry="3.41" transform="rotate(-55 303.5 506)" stroke-width="1.6" fill="none" />
<ellipse cx="288" cy="498" rx="7" ry="5.5" transform="rotate(-55 288 498)" stroke-width="1.1" fill="#fff" />
<path d="M291.93,492.21 L294.93,494.21 L287.07,505.79 L284.07,503.79 Z" stroke-width="0" fill="#fff" stroke="none"/>
<line x1="291.93" y1="492.21" x2="294.93" y2="494.21" stroke-width="1.1"/>
<line x1="284.07" y1="503.79" x2="287.07" y2="505.79" stroke-width="1.1"/>
<ellipse cx="291" cy="500" rx="7" ry="5.5" transform="rotate(-55 291 500)" stroke-width="1.2" fill="#fff" />
<ellipse cx="291" cy="500" rx="4.34" ry="3.41" transform="rotate(-55 291 500)" stroke-width="1.6" fill="none" />
<ellipse cx="280" cy="504" rx="7.5" ry="3.6" transform="rotate(38 280 504)" stroke-width="1.1" fill="#fff" />
<path d="M285.88,508.66 L280.88,514.66 L269.12,505.34 L274.12,499.34 Z" stroke-width="0" fill="#fff" stroke="none"/>
<line x1="285.88" y1="508.66" x2="280.88" y2="514.66" stroke-width="1.1"/>
<line x1="274.12" y1="499.34" x2="269.12" y2="505.34" stroke-width="1.1"/>
<ellipse cx="275" cy="510" rx="7.5" ry="3.6" transform="rotate(38 275 510)" stroke-width="1.2" fill="#fff" />
<ellipse cx="275" cy="510" rx="7.5" ry="3.6" transform="rotate(38 275 510)" stroke-width="2.2" fill="none" />
<ellipse cx="275" cy="510" rx="5" ry="1.8" transform="rotate(38 275 510)" stroke-width="1" fill="none" />
<ellipse cx="273" cy="514" rx="7.5" ry="3.6" transform="rotate(15 273 514)" stroke-width="1.1" fill="#fff" />
<path d="M280.21,516.04 L278.21,522.04 L263.79,517.96 L265.79,511.96 Z" stroke-width="0" fill="#fff" stroke="none"/>
<line x1="280.21" y1="516.04" x2="278.21" y2="522.04" stroke-width="1.1"/>
<line x1="265.79" y1="511.96" x2="263.79" y2="517.96" stroke-width="1.1"/>
<ellipse cx="271" cy="520" rx="7.5" ry="3.6" transform="rotate(15 271 520)" stroke-width="1.2" fill="#fff" />
<ellipse cx="271" cy="520" rx="7.5" ry="3.6" transform="rotate(15 271 520)" stroke-width="2" fill="none" />
<ellipse cx="271" cy="520" rx="5" ry="1.6" transform="rotate(15 271 520)" stroke-width="1" fill="none" />
<ellipse cx="278" cy="536" rx="7.5" ry="9.5" transform="rotate(-50 278 536)" stroke-width="1.1" fill="#fff" />
<path d="M272.41,541.04 L268.41,537.04 L279.59,526.96 L283.59,530.96 Z" stroke-width="0" fill="#fff" stroke="none"/>
<line x1="272.41" y1="541.04" x2="268.41" y2="537.04" stroke-width="1.1"/>
<line x1="283.59" y1="530.96" x2="279.59" y2="526.96" stroke-width="1.1"/>
<ellipse cx="274" cy="532" rx="7.5" ry="9.5" transform="rotate(-50 274 532)" stroke-width="1.2" fill="#fff" />
<ellipse cx="274" cy="532" rx="4.65" ry="5.89" transform="rotate(-50 274 532)" stroke-width="1.6" fill="none" />
<ellipse cx="298" cy="516" rx="7.5" ry="3.5" transform="rotate(20 298 516)" stroke-width="1.1" fill="#fff" />
<path d="M305.06,518.52 L303.06,524.52 L288.94,519.48 L290.94,513.48 Z" stroke-width="0" fill="#fff" stroke="none"/>
<line x1="305.06" y1="518.52" x2="303.06" y2="524.52" stroke-width="1.1"/>
<line x1="290.94" y1="513.48" x2="288.94" y2="519.48" stroke-width="1.1"/>
<ellipse cx="296" cy="522" rx="7.5" ry="3.5" transform="rotate(20 296 522)" stroke-width="1.2" fill="#fff" />
<ellipse cx="298" cy="516" rx="7.5" ry="3.5" transform="rotate(20 298 516)" stroke-width="2" fill="none" />
<ellipse cx="293" cy="525" rx="7.5" ry="3.6" transform="rotate(30 293 525)" stroke-width="1.1" fill="#fff" />
<path d="M299.5,528.74 L295.5,535.74 L282.5,528.26 L286.5,521.26 Z" stroke-width="0" fill="#fff" stroke="none"/>
<line x1="299.5" y1="528.74" x2="295.5" y2="535.74" stroke-width="1.1"/>
<line x1="286.5" y1="521.26" x2="282.5" y2="528.26" stroke-width="1.1"/>
<ellipse cx="289" cy="532" rx="7.5" ry="3.6" transform="rotate(30 289 532)" stroke-width="1.2" fill="#fff" />
<ellipse cx="289" cy="532" rx="7.5" ry="3.6" transform="rotate(30 289 532)" stroke-width="2" fill="none" />
<ellipse cx="289" cy="532" rx="5" ry="1.8" transform="rotate(30 289 532)" stroke-width="1" fill="none" />
<ellipse cx="329" cy="541" rx="12.18" ry="9.16" transform="rotate(-60 329 541)" stroke-width="1.2" fill="#fff" />
<ellipse cx="329.5" cy="541.5" rx="9.66" ry="6.62" transform="rotate(-60 329.5 541.5)" stroke-width="1.0" fill="none" />
<ellipse cx="330" cy="542" rx="8.15" ry="5.09" transform="rotate(-60 330 542)" stroke-width="1.1" fill="none" />
<ellipse cx="414" cy="592.5" rx="12.18" ry="9.16" transform="rotate(-60 414 592.5)" stroke-width="1.2" fill="#fff" />
<ellipse cx="414.5" cy="593" rx="9.66" ry="6.62" transform="rotate(-60 414.5 593)" stroke-width="1.0" fill="none" />
<ellipse cx="415" cy="593.5" rx="8.15" ry="5.09" transform="rotate(-60 415 593.5)" stroke-width="1.1" fill="none" />
<ellipse cx="364" cy="563" rx="47.83" ry="25.92" transform="rotate(-60 364 563)" stroke-width="1.15" fill="#fff" />
<path d="M384.99,520.31 L396.29,523.81 L354.31,609.19 L343.01,605.69 Z" stroke-width="0" fill="#fff" stroke="none"/>
<line x1="384.99" y1="520.31" x2="396.29" y2="523.81" stroke-width="1.15"/>
<line x1="343.01" y1="605.69" x2="354.31" y2="609.19" stroke-width="1.15"/>
<ellipse cx="375.3" cy="566.5" rx="47.83" ry="25.92" transform="rotate(-60 375.3 566.5)" stroke-width="1.15" fill="#fff" />
<ellipse cx="373.5" cy="566" rx="47.83" ry="25.92" transform="rotate(-60 373.5 566)" stroke-width="0.8" fill="none" />
<ellipse cx="375.3" cy="566.5" rx="47.83" ry="25.92" transform="rotate(-60 375.3 566.5)" stroke-width="1.15" fill="#fff" />
<rect x="382.64" y="520.4" width="3" height="3.4" stroke-width="1" fill="#fff" transform="rotate(-25 384.14 522.1)"/>
<rect x="375.2" y="522.15" width="3" height="3.4" stroke-width="1" fill="#fff" transform="rotate(-25 376.7 523.85)"/>
<rect x="367.33" y="526.34" width="3" height="3.4" stroke-width="1" fill="#fff" transform="rotate(-25 368.83 528.04)"/>
<rect x="359.49" y="532.73" width="3" height="3.4" stroke-width="1" fill="#fff" transform="rotate(-25 360.99 534.43)"/>
<rect x="352.17" y="540.94" width="3" height="3.4" stroke-width="1" fill="#fff" transform="rotate(-25 353.67 542.64)"/>
<rect x="345.79" y="550.47" width="3" height="3.4" stroke-width="1" fill="#fff" transform="rotate(-25 347.29 552.17)"/>
<rect x="340.72" y="560.77" width="3" height="3.4" stroke-width="1" fill="#fff" transform="rotate(-25 342.22 562.47)"/>
<rect x="337.28" y="571.22" width="3" height="3.4" stroke-width="1" fill="#fff" transform="rotate(-25 338.78 572.92)"/>
<rect x="335.66" y="581.19" width="3" height="3.4" stroke-width="1" fill="#fff" transform="rotate(-25 337.16 582.89)"/>
<rect x="335.96" y="590.11" width="3" height="3.4" stroke-width="1" fill="#fff" transform="rotate(-25 337.46 591.81)"/>
<rect x="338.17" y="597.43" width="3" height="3.4" stroke-width="1" fill="#fff" transform="rotate(-25 339.67 599.13)"/>
<rect x="342.14" y="602.72" width="3" height="3.4" stroke-width="1" fill="#fff" transform="rotate(-25 343.64 604.42)"/>
<rect x="347.66" y="605.67" width="3" height="3.4" stroke-width="1" fill="#fff" transform="rotate(-25 349.16 607.37)"/>
<ellipse cx="382" cy="573.75" rx="16.11" ry="11.04" transform="rotate(-60 382 573.75)" stroke-width="1.1" fill="#fff" />
<path d="M389.98,559.76 L393.98,562.01 L378.02,589.99 L374.02,587.74 Z" stroke-width="0" fill="#fff" stroke="none"/>
<line x1="389.98" y1="559.76" x2="393.98" y2="562.01" stroke-width="1.1"/>
<line x1="374.02" y1="587.74" x2="378.02" y2="589.99" stroke-width="1.1"/>
<ellipse cx="386" cy="576" rx="16.11" ry="11.04" transform="rotate(-60 386 576)" stroke-width="1.1" fill="#fff" />
<ellipse cx="382.5" cy="574" rx="13.81" ry="9.14" transform="rotate(-60 382.5 574)" stroke-width="0.8" fill="none" />
<ellipse cx="383" cy="573" rx="9.85" ry="5.74" transform="rotate(-60 383 573)" stroke-width="1.1" fill="#fff" />
<path d="M388.11,564.59 L398.11,571.29 L387.89,588.11 L377.89,581.41 Z" stroke-width="0" fill="#fff" stroke="none"/>
<line x1="388.11" y1="564.59" x2="398.11" y2="571.29" stroke-width="1.1"/>
<line x1="377.89" y1="581.41" x2="387.89" y2="588.11" stroke-width="1.1"/>
<ellipse cx="393" cy="579.7" rx="9.85" ry="5.74" transform="rotate(-60 393 579.7)" stroke-width="1.2" fill="#fff" />
<ellipse cx="393.3" cy="580" rx="7.54" ry="3.79" transform="rotate(-60 393.3 580)" stroke-width="0.9" fill="none" />
<ellipse cx="464.5" cy="508" rx="55.51" ry="34.06" transform="rotate(-60 464.5 508)" stroke-width="1.2" fill="#fff" />
<ellipse cx="465.5" cy="508.5" rx="53.71" ry="32.65" transform="rotate(-60 465.5 508.5)" stroke-width="0.8" fill="none" />
<ellipse cx="473.5" cy="512.5" rx="23.61" ry="13.31" transform="rotate(-60 473.5 512.5)" stroke-width="1.1" fill="none" />
<ellipse cx="487.8" cy="509.21" rx="3.16" ry="1.93" transform="rotate(-60 487.8 509.21)" stroke-width="1.1" fill="#fff" />
<path d="M485.8,510.21 Q487.8,512.71 489.8,510.71" stroke-width="1.2" fill="none" />
<ellipse cx="484.24" cy="518.7" rx="3.16" ry="1.93" transform="rotate(-60 484.24 518.7)" stroke-width="1.1" fill="#fff" />
<path d="M482.24,519.7 Q484.24,522.2 486.24,520.2" stroke-width="1.2" fill="none" />
<ellipse cx="477.8" cy="526.53" rx="3.16" ry="1.93" transform="rotate(-60 477.8 526.53)" stroke-width="1.1" fill="#fff" />
<path d="M475.8,527.53 Q477.8,530.03 479.8,528.03" stroke-width="1.2" fill="none" />
<ellipse cx="470.21" cy="530.6" rx="3.16" ry="1.93" transform="rotate(-60 470.21 530.6)" stroke-width="1.1" fill="#fff" />
<path d="M468.21,531.6 Q470.21,534.1 472.21,532.1" stroke-width="1.2" fill="none" />
<ellipse cx="463.5" cy="529.82" rx="3.16" ry="1.93" transform="rotate(-60 463.5 529.82)" stroke-width="1.1" fill="#fff" />
<path d="M461.5,530.82 Q463.5,533.32 465.5,531.32" stroke-width="1.2" fill="none" />
<ellipse cx="459.47" cy="524.4" rx="3.16" ry="1.93" transform="rotate(-60 459.47 524.4)" stroke-width="1.1" fill="#fff" />
<path d="M457.47,525.4 Q459.47,527.9 461.47,525.9" stroke-width="1.2" fill="none" />
<ellipse cx="459.2" cy="515.79" rx="3.16" ry="1.93" transform="rotate(-60 459.2 515.79)" stroke-width="1.1" fill="#fff" />
<path d="M457.2,516.79 Q459.2,519.29 461.2,517.29" stroke-width="1.2" fill="none" />
<ellipse cx="462.76" cy="506.3" rx="3.16" ry="1.93" transform="rotate(-60 462.76 506.3)" stroke-width="1.1" fill="#fff" />
<path d="M460.76,507.3 Q462.76,509.8 464.76,507.8" stroke-width="1.2" fill="none" />
<ellipse cx="469.2" cy="498.47" rx="3.16" ry="1.93" transform="rotate(-60 469.2 498.47)" stroke-width="1.1" fill="#fff" />
<path d="M467.2,499.47 Q469.2,501.97 471.2,499.97" stroke-width="1.2" fill="none" />
<ellipse cx="475" cy="514" rx="16.47" ry="9.27" transform="rotate(-60 475 514)" stroke-width="1.0" fill="none" />
<ellipse cx="477" cy="515" rx="14.4" ry="10.36" transform="rotate(-60 477 515)" stroke-width="1.15" fill="#fff" />
<path d="M484.12,502.49 L512.62,518.49 L498.38,543.51 L469.88,527.51 Z" stroke-width="0" fill="#fff" stroke="none"/>
<line x1="484.12" y1="502.49" x2="512.62" y2="518.49" stroke-width="1.15"/>
<line x1="469.88" y1="527.51" x2="498.38" y2="543.51" stroke-width="1.15"/>
<ellipse cx="505.5" cy="531" rx="14.4" ry="10.36" transform="rotate(-60 505.5 531)" stroke-width="1.15" fill="#fff" />
<ellipse cx="501.5" cy="528.5" rx="11.75" ry="9.34" transform="rotate(-60 501.5 528.5)" stroke-width="1.05" fill="none" />
<ellipse cx="503.1" cy="529.4" rx="11.75" ry="9.34" transform="rotate(-60 503.1 529.4)" stroke-width="1.05" fill="none" />
<ellipse cx="504.7" cy="530.3" rx="11.75" ry="9.34" transform="rotate(-60 504.7 530.3)" stroke-width="1.05" fill="none" />
<ellipse cx="506.3" cy="531.2" rx="11.75" ry="9.34" transform="rotate(-60 506.3 531.2)" stroke-width="1.05" fill="none" />
<ellipse cx="509.5" cy="534" rx="7.74" ry="6.74" transform="rotate(-60 509.5 534)" stroke-width="1.15" fill="#fff" />
<ellipse cx="510" cy="534" rx="3.72" ry="2.72" transform="rotate(-60 510 534)" stroke-width="0.9" fill="none" />
<path d="M495,535 L497,541 L505,543" stroke-width="1.0" fill="none" />
<path d="M487,478 L487,490" stroke-width="1.5" fill="none" />
<path d="M477,527 Q481,526 483,530" stroke-width="1.3" fill="none" />
<ellipse cx="487.5" cy="477.5" rx="2.6" ry="1.8" transform="rotate(180.0 487.5 477.5)" stroke-width="1.1" fill="#fff" />
<path d="M484.9,477.5 L484.9,471.5 L490.1,471.5 L490.1,477.5 Z" stroke-width="0" fill="#fff" stroke="none"/>
<line x1="484.9" y1="477.5" x2="484.9" y2="471.5" stroke-width="1.1"/>
<line x1="490.1" y1="477.5" x2="490.1" y2="471.5" stroke-width="1.1"/>
<ellipse cx="487.5" cy="471.5" rx="2.6" ry="1.8" transform="rotate(180.0 487.5 471.5)" stroke-width="1.2" fill="#fff" />
<ellipse cx="487.5" cy="471.5" rx="2.6" ry="1.8" transform="rotate(180.0 487.5 471.5)" stroke-width="1.2" fill="#fff" />
<ellipse cx="522" cy="502" rx="2.6" ry="1.8" transform="rotate(221.18592516570965 522 502)" stroke-width="1.1" fill="#fff" />
<path d="M520.04,500.29 L523.54,496.29 L527.46,499.71 L523.96,503.71 Z" stroke-width="0" fill="#fff" stroke="none"/>
<line x1="520.04" y1="500.29" x2="523.54" y2="496.29" stroke-width="1.1"/>
<line x1="523.96" y1="503.71" x2="527.46" y2="499.71" stroke-width="1.1"/>
<ellipse cx="525.5" cy="498" rx="2.6" ry="1.8" transform="rotate(221.18592516570965 525.5 498)" stroke-width="1.2" fill="#fff" />
<ellipse cx="525.5" cy="498" rx="2.6" ry="1.8" transform="rotate(221.18592516570965 525.5 498)" stroke-width="1.2" fill="#fff" />
<ellipse cx="455" cy="543.5" rx="2.6" ry="1.8" transform="rotate(135.0 455 543.5)" stroke-width="1.1" fill="#fff" />
<path d="M453.16,545.34 L448.66,540.84 L452.34,537.16 L456.84,541.66 Z" stroke-width="0" fill="#fff" stroke="none"/>
<line x1="453.16" y1="545.34" x2="448.66" y2="540.84" stroke-width="1.1"/>
<line x1="456.84" y1="541.66" x2="452.34" y2="537.16" stroke-width="1.1"/>
<ellipse cx="450.5" cy="539" rx="2.6" ry="1.8" transform="rotate(135.0 450.5 539)" stroke-width="1.2" fill="#fff" />
<ellipse cx="450.5" cy="539" rx="2.6" ry="1.8" transform="rotate(135.0 450.5 539)" stroke-width="1.2" fill="#fff" />
<ellipse cx="487.5" cy="559" rx="2.6" ry="1.8" transform="rotate(0.0 487.5 559)" stroke-width="1.1" fill="#fff" />
<path d="M490.1,559 L490.1,565 L484.9,565 L484.9,559 Z" stroke-width="0" fill="#fff" stroke="none"/>
<line x1="490.1" y1="559" x2="490.1" y2="565" stroke-width="1.1"/>
<line x1="484.9" y1="559" x2="484.9" y2="565" stroke-width="1.1"/>
<ellipse cx="487.5" cy="565" rx="2.6" ry="1.8" transform="rotate(0.0 487.5 565)" stroke-width="1.2" fill="#fff" />
<ellipse cx="487.5" cy="565" rx="2.6" ry="1.8" transform="rotate(0.0 487.5 565)" stroke-width="1.2" fill="#fff" />
<ellipse cx="527.5" cy="542.5" rx="7.65" ry="5.63" transform="rotate(-60 527.5 542.5)" stroke-width="1.4" fill="#fff" />
<ellipse cx="527.8" cy="542.8" rx="6.04" ry="4.01" transform="rotate(-60 527.8 542.8)" stroke-width="0.9" fill="none" />
<ellipse cx="528" cy="543" rx="4.69" ry="2.85" transform="rotate(-60 528 543)" stroke-width="1.6" fill="none" />
<defs><clipPath id="cBo"><path d="M449.77,643.77 L449.78,642.65 L449.83,641.51 L449.91,640.36 L450.03,639.19 L450.18,638.01 L450.36,636.82 L450.57,635.63 L450.82,634.42 L451.1,633.2 L451.41,631.99 L451.76,630.76 L452.13,629.54 L452.54,628.31 L452.97,627.09 L453.44,625.87 L453.94,624.65 L454.46,623.43 L455.01,622.23 L455.59,621.03 L456.19,619.84 L456.83,618.66 L457.48,617.5 L458.16,616.35 L458.87,615.21 L459.59,614.1 L460.34,613 L461.11,611.92 L461.9,610.86 L462.71,609.82 L463.53,608.8 L464.37,607.81 L465.23,606.85 L466.11,605.91 L466.99,605 L467.89,604.12 L468.8,603.27 L469.72,602.46 L470.66,601.67 L471.6,600.92 L472.54,600.2 L473.49,599.52 L474.45,598.87 L475.41,598.26 L572.61,539.96 L573.57,539.39 L574.54,538.85 L575.5,538.36 L576.47,537.9 L577.43,537.48 L578.38,537.11 L579.34,536.77 L580.28,536.48 L581.23,536.23 L582.16,536.01 L583.08,535.85 L583.99,535.72 L584.89,535.64 L585.78,535.6 L586.66,535.6 L587.52,535.65 L588.36,535.73 L589.19,535.87 L590,536.04 L590.79,536.25 L591.56,536.51 L592.31,536.81 L593.04,537.15 L593.75,537.53 L594.43,537.95 L595.09,538.41 L595.73,538.92 L596.34,539.45 L596.92,540.03 L597.47,540.65 L598,541.3 L598.5,541.99 L598.97,542.71 L599.41,543.46 L599.82,544.25 L600.2,545.08 L600.54,545.93 L600.86,546.81 L601.14,547.73 L601.4,548.67 L601.61,549.63 L601.8,550.63 L601.95,551.64 L602.07,552.68 L602.16,553.75 L602.21,554.83 L602.23,555.93 L602.22,557.05 L602.17,558.19 L602.09,559.34 L601.97,560.51 L601.82,561.69 L601.64,562.88 L601.43,564.07 L601.18,565.28 L600.9,566.5 L600.59,567.71 L600.24,568.94 L599.87,570.16 L599.46,571.39 L599.03,572.61 L598.56,573.83 L598.06,575.05 L597.54,576.27 L596.99,577.47 L596.41,578.67 L595.81,579.86 L595.17,581.04 L594.52,582.2 L593.84,583.35 L593.13,584.49 L592.41,585.6 L591.66,586.7 L590.89,587.78 L590.1,588.84 L589.29,589.88 L588.47,590.9 L587.63,591.89 L586.77,592.85 L585.89,593.79 L585.01,594.7 L584.11,595.58 L583.2,596.43 L582.27,597.24 L581.34,598.03 L580.4,598.78 L579.46,599.5 L578.51,600.18 L577.55,600.83 L576.59,601.44 L479.39,659.74 L478.43,660.31 L477.46,660.85 L476.5,661.34 L475.53,661.8 L474.57,662.22 L473.62,662.59 L472.66,662.93 L471.72,663.22 L470.77,663.48 L469.84,663.69 L468.92,663.85 L468.01,663.98 L467.11,664.06 L466.22,664.1 L465.34,664.1 L464.48,664.05 L463.64,663.97 L462.81,663.83 L462,663.66 L461.21,663.45 L460.44,663.19 L459.69,662.89 L458.96,662.55 L458.25,662.17 L457.57,661.75 L456.91,661.29 L456.27,660.78 L455.66,660.25 L455.08,659.67 L454.53,659.05 L454,658.4 L453.5,657.71 L453.03,656.99 L452.59,656.24 L452.18,655.45 L451.8,654.62 L451.46,653.77 L451.14,652.89 L450.86,651.98 L450.6,651.03 L450.39,650.07 L450.2,649.07 L450.05,648.06 L449.93,647.02 L449.84,645.95 L449.79,644.87 Z"/></clipPath><clipPath id="cFi"><path d="M469.13,647.1 L469.14,646.26 L469.17,645.41 L469.24,644.54 L469.32,643.66 L469.43,642.78 L469.57,641.88 L469.73,640.98 L469.92,640.07 L470.13,639.16 L470.36,638.24 L470.62,637.33 L470.9,636.4 L471.21,635.48 L471.54,634.56 L471.89,633.64 L472.26,632.73 L472.65,631.82 L473.07,630.91 L473.5,630.01 L473.96,629.11 L474.43,628.23 L474.92,627.35 L475.44,626.49 L475.97,625.64 L476.51,624.79 L477.07,623.97 L477.65,623.16 L478.25,622.36 L478.85,621.58 L479.47,620.82 L480.11,620.07 L480.75,619.35 L481.41,618.64 L482.08,617.96 L482.75,617.3 L483.44,616.66 L484.13,616.04 L484.83,615.45 L485.54,614.89 L486.25,614.35 L486.96,613.83 L487.68,613.35 L488.4,612.89 L585.6,554.59 L586.33,554.16 L587.05,553.76 L587.78,553.38 L588.5,553.04 L589.23,552.73 L589.95,552.44 L590.66,552.19 L591.37,551.97 L592.08,551.78 L592.78,551.62 L593.48,551.5 L594.16,551.4 L594.84,551.34 L595.51,551.31 L596.17,551.31 L596.81,551.35 L597.45,551.41 L598.07,551.51 L598.68,551.64 L599.27,551.8 L599.85,552 L600.42,552.22 L600.97,552.48 L601.5,552.76 L602.01,553.08 L602.51,553.43 L602.98,553.8 L603.44,554.21 L603.88,554.64 L604.3,555.11 L604.69,555.6 L605.07,556.11 L605.42,556.66 L605.75,557.22 L606.06,557.82 L606.34,558.44 L606.61,559.08 L606.84,559.74 L607.06,560.43 L607.25,561.13 L607.41,561.86 L607.55,562.61 L607.67,563.37 L607.76,564.15 L607.82,564.95 L607.86,565.77 L607.87,566.6 L607.86,567.44 L607.83,568.29 L607.76,569.16 L607.68,570.04 L607.57,570.92 L607.43,571.82 L607.27,572.72 L607.08,573.63 L606.87,574.54 L606.64,575.46 L606.38,576.37 L606.1,577.3 L605.79,578.22 L605.46,579.14 L605.11,580.06 L604.74,580.97 L604.35,581.88 L603.93,582.79 L603.5,583.69 L603.04,584.59 L602.57,585.47 L602.08,586.35 L601.56,587.21 L601.03,588.06 L600.49,588.91 L599.93,589.73 L599.35,590.54 L598.75,591.34 L598.15,592.12 L597.53,592.88 L596.89,593.63 L596.25,594.35 L595.59,595.06 L594.92,595.74 L594.25,596.4 L593.56,597.04 L592.87,597.66 L592.17,598.25 L591.46,598.81 L590.75,599.35 L590.04,599.87 L589.32,600.35 L588.6,600.81 L491.4,659.11 L490.67,659.54 L489.95,659.94 L489.22,660.32 L488.5,660.66 L487.77,660.97 L487.05,661.26 L486.34,661.51 L485.63,661.73 L484.92,661.92 L484.22,662.08 L483.52,662.2 L482.84,662.3 L482.16,662.36 L481.49,662.39 L480.83,662.39 L480.19,662.35 L479.55,662.29 L478.93,662.19 L478.32,662.06 L477.73,661.9 L477.15,661.7 L476.58,661.48 L476.03,661.22 L475.5,660.94 L474.99,660.62 L474.49,660.27 L474.02,659.9 L473.56,659.49 L473.12,659.06 L472.7,658.59 L472.31,658.1 L471.93,657.59 L471.58,657.04 L471.25,656.48 L470.94,655.88 L470.66,655.26 L470.39,654.62 L470.16,653.96 L469.94,653.27 L469.75,652.57 L469.59,651.84 L469.45,651.09 L469.33,650.33 L469.24,649.55 L469.18,648.75 L469.14,647.93 Z"/></clipPath><clipPath id="cL"><rect x="420" y="618" width="52" height="70"/></clipPath><clipPath id="cR"><path d="M560,540 L640,540 L640,640 L540,640 Z"/><rect x="470" y="630" width="32" height="40"/></clipPath></defs>
<path d="M449.77,643.77 L449.78,642.65 L449.83,641.51 L449.91,640.36 L450.03,639.19 L450.18,638.01 L450.36,636.82 L450.57,635.63 L450.82,634.42 L451.1,633.2 L451.41,631.99 L451.76,630.76 L452.13,629.54 L452.54,628.31 L452.97,627.09 L453.44,625.87 L453.94,624.65 L454.46,623.43 L455.01,622.23 L455.59,621.03 L456.19,619.84 L456.83,618.66 L457.48,617.5 L458.16,616.35 L458.87,615.21 L459.59,614.1 L460.34,613 L461.11,611.92 L461.9,610.86 L462.71,609.82 L463.53,608.8 L464.37,607.81 L465.23,606.85 L466.11,605.91 L466.99,605 L467.89,604.12 L468.8,603.27 L469.72,602.46 L470.66,601.67 L471.6,600.92 L472.54,600.2 L473.49,599.52 L474.45,598.87 L475.41,598.26 L572.61,539.96 L573.57,539.39 L574.54,538.85 L575.5,538.36 L576.47,537.9 L577.43,537.48 L578.38,537.11 L579.34,536.77 L580.28,536.48 L581.23,536.23 L582.16,536.01 L583.08,535.85 L583.99,535.72 L584.89,535.64 L585.78,535.6 L586.66,535.6 L587.52,535.65 L588.36,535.73 L589.19,535.87 L590,536.04 L590.79,536.25 L591.56,536.51 L592.31,536.81 L593.04,537.15 L593.75,537.53 L594.43,537.95 L595.09,538.41 L595.73,538.92 L596.34,539.45 L596.92,540.03 L597.47,540.65 L598,541.3 L598.5,541.99 L598.97,542.71 L599.41,543.46 L599.82,544.25 L600.2,545.08 L600.54,545.93 L600.86,546.81 L601.14,547.73 L601.4,548.67 L601.61,549.63 L601.8,550.63 L601.95,551.64 L602.07,552.68 L602.16,553.75 L602.21,554.83 L602.23,555.93 L602.22,557.05 L602.17,558.19 L602.09,559.34 L601.97,560.51 L601.82,561.69 L601.64,562.88 L601.43,564.07 L601.18,565.28 L600.9,566.5 L600.59,567.71 L600.24,568.94 L599.87,570.16 L599.46,571.39 L599.03,572.61 L598.56,573.83 L598.06,575.05 L597.54,576.27 L596.99,577.47 L596.41,578.67 L595.81,579.86 L595.17,581.04 L594.52,582.2 L593.84,583.35 L593.13,584.49 L592.41,585.6 L591.66,586.7 L590.89,587.78 L590.1,588.84 L589.29,589.88 L588.47,590.9 L587.63,591.89 L586.77,592.85 L585.89,593.79 L585.01,594.7 L584.11,595.58 L583.2,596.43 L582.27,597.24 L581.34,598.03 L580.4,598.78 L579.46,599.5 L578.51,600.18 L577.55,600.83 L576.59,601.44 L479.39,659.74 L478.43,660.31 L477.46,660.85 L476.5,661.34 L475.53,661.8 L474.57,662.22 L473.62,662.59 L472.66,662.93 L471.72,663.22 L470.77,663.48 L469.84,663.69 L468.92,663.85 L468.01,663.98 L467.11,664.06 L466.22,664.1 L465.34,664.1 L464.48,664.05 L463.64,663.97 L462.81,663.83 L462,663.66 L461.21,663.45 L460.44,663.19 L459.69,662.89 L458.96,662.55 L458.25,662.17 L457.57,661.75 L456.91,661.29 L456.27,660.78 L455.66,660.25 L455.08,659.67 L454.53,659.05 L454,658.4 L453.5,657.71 L453.03,656.99 L452.59,656.24 L452.18,655.45 L451.8,654.62 L451.46,653.77 L451.14,652.89 L450.86,651.98 L450.6,651.03 L450.39,650.07 L450.2,649.07 L450.05,648.06 L449.93,647.02 L449.84,645.95 L449.79,644.87 Z" stroke-width="1.2" fill="#fff" />
<g clip-path="url(#cBo)"><g clip-path="url(#cL)"><path d="M425.82,780.3 L373.47,750.98 M427.58,777.16 L375.22,747.84 M429.33,774.02 L376.98,744.7 M431.09,770.88 L378.74,741.56 M432.85,767.73 L380.5,738.42 M434.61,764.59 L382.26,735.28 M436.37,761.45 L384.02,732.14 M438.13,758.31 L385.78,729 M439.89,755.17 L387.54,725.85 M441.65,752.03 L389.3,722.71 M443.41,748.89 L391.06,719.57 M445.16,745.75 L392.81,716.43 M446.92,742.61 L394.57,713.29 M448.68,739.47 L396.33,710.15 M450.44,736.32 L398.09,707.01 M452.2,733.18 L399.85,703.87 M453.96,730.04 L401.61,700.73 M455.72,726.9 L403.37,697.59 M457.48,723.76 L405.13,694.44 M459.24,720.62 L406.89,691.3 M461,717.48 L408.65,688.16 M462.75,714.34 L410.4,685.02 M464.51,711.2 L412.16,681.88 M466.27,708.06 L413.92,678.74 M468.03,704.91 L415.68,675.6 M469.79,701.77 L417.44,672.46 M471.55,698.63 L419.2,669.32 M473.31,695.49 L420.96,666.18 M475.07,692.35 L422.72,663.03 M476.83,689.21 L424.48,659.89 M478.59,686.07 L426.24,656.75 M480.34,682.93 L427.99,653.61 M482.1,679.79 L429.75,650.47 M483.86,676.65 L431.51,647.33 M485.62,673.5 L433.27,644.19 M487.38,670.36 L435.03,641.05 M489.14,667.22 L436.79,637.91 M490.9,664.08 L438.55,634.76 M492.66,660.94 L440.31,631.62 M494.42,657.8 L442.07,628.48 M496.18,654.66 L443.82,625.34 M497.93,651.52 L445.58,622.2 M499.69,648.38 L447.34,619.06 M501.45,645.24 L449.1,615.92 M503.21,642.09 L450.86,612.78 M504.97,638.95 L452.62,609.64 M506.73,635.81 L454.38,606.5 M508.49,632.67 L456.14,603.35 M510.25,629.53 L457.9,600.21 M512.01,626.39 L459.66,597.07 M513.76,623.25 L461.41,593.93 M515.52,620.11 L463.17,590.79 M517.28,616.97 L464.93,587.65 M519.04,613.82 L466.69,584.51 M520.8,610.68 L468.45,581.37 M522.56,607.54 L470.21,578.23 M524.32,604.4 L471.97,575.09 M526.08,601.26 L473.73,571.94 M527.84,598.12 L475.49,568.8 M529.6,594.98 L477.25,565.66 M531.35,591.84 L479,562.52 M533.11,588.7 L480.76,559.38 M534.87,585.56 L482.52,556.24 M536.63,582.41 L484.28,553.1 M538.39,579.27 L486.04,549.96 M540.15,576.13 L487.8,546.82 M541.91,572.99 L489.56,543.68 M543.67,569.85 L491.32,540.53 M545.43,566.71 L493.08,537.39 M547.19,563.57 L494.84,534.25 M548.94,560.43 L496.59,531.11 M550.7,557.29 L498.35,527.97 M552.46,554.15 L500.11,524.83 M554.22,551 L501.87,521.69 M555.98,547.86 L503.63,518.55 M557.74,544.72 L505.39,515.41 M559.5,541.58 L507.15,512.27 M561.26,538.44 L508.91,509.12 M563.02,535.3 L510.67,505.98 M564.78,532.16 L512.42,502.84" stroke-width="0.85"/></g></g>
<path d="M462.27,650.77 L462.28,649.65 L462.33,648.51 L462.41,647.36 L462.53,646.19 L462.68,645.01 L462.86,643.82 L463.07,642.63 L463.32,641.42 L463.6,640.2 L463.91,638.99 L464.26,637.76 L464.63,636.54 L465.04,635.31 L465.47,634.09 L465.94,632.87 L466.44,631.65 L466.96,630.43 L467.51,629.23 L468.09,628.03 L468.69,626.84 L469.33,625.66 L469.98,624.5 L470.66,623.35 L471.37,622.21 L472.09,621.1 L472.84,620 L473.61,618.92 L474.4,617.86 L475.21,616.82 L476.03,615.8 L476.87,614.81 L477.73,613.85 L478.61,612.91 L479.49,612 L480.39,611.12 L481.3,610.27 L482.22,609.46 L483.16,608.67 L484.1,607.92 L485.04,607.2 L485.99,606.52 L486.95,605.87 L487.91,605.26 L585.11,546.96 L586.07,546.39 L587.04,545.85 L588,545.36 L588.97,544.9 L589.93,544.48 L590.88,544.11 L591.84,543.77 L592.78,543.48 L593.73,543.23 L594.66,543.01 L595.58,542.85 L596.49,542.72 L597.39,542.64 L598.28,542.6 L599.16,542.6 L600.02,542.65 L600.86,542.73 L601.69,542.87 L602.5,543.04 L603.29,543.25 L604.06,543.51 L604.81,543.81 L605.54,544.15 L606.25,544.53 L606.93,544.95 L607.59,545.41 L608.23,545.92 L608.84,546.45 L609.42,547.03 L609.97,547.65 L610.5,548.3 L611,548.99 L611.47,549.71 L611.91,550.46 L612.32,551.25 L612.7,552.08 L613.04,552.93 L613.36,553.81 L613.64,554.73 L613.9,555.67 L614.11,556.63 L614.3,557.63 L614.45,558.64 L614.57,559.68 L614.66,560.75 L614.71,561.83 L614.73,562.93 L614.72,564.05 L614.67,565.19 L614.59,566.34 L614.47,567.51 L614.32,568.69 L614.14,569.88 L613.93,571.07 L613.68,572.28 L613.4,573.5 L613.09,574.71 L612.74,575.94 L612.37,577.16 L611.96,578.39 L611.53,579.61 L611.06,580.83 L610.56,582.05 L610.04,583.27 L609.49,584.47 L608.91,585.67 L608.31,586.86 L607.67,588.04 L607.02,589.2 L606.34,590.35 L605.63,591.49 L604.91,592.6 L604.16,593.7 L603.39,594.78 L602.6,595.84 L601.79,596.88 L600.97,597.9 L600.13,598.89 L599.27,599.85 L598.39,600.79 L597.51,601.7 L596.61,602.58 L595.7,603.43 L594.77,604.24 L593.84,605.03 L592.9,605.78 L591.96,606.5 L591.01,607.18 L590.05,607.83 L589.09,608.44 L491.89,666.74 L490.93,667.31 L489.96,667.85 L489,668.34 L488.03,668.8 L487.07,669.22 L486.12,669.59 L485.16,669.93 L484.22,670.22 L483.27,670.48 L482.34,670.69 L481.42,670.85 L480.51,670.98 L479.61,671.06 L478.72,671.1 L477.84,671.1 L476.98,671.05 L476.14,670.97 L475.31,670.83 L474.5,670.66 L473.71,670.45 L472.94,670.19 L472.19,669.89 L471.46,669.55 L470.75,669.17 L470.07,668.75 L469.41,668.29 L468.77,667.78 L468.16,667.25 L467.58,666.67 L467.03,666.05 L466.5,665.4 L466,664.71 L465.53,663.99 L465.09,663.24 L464.68,662.45 L464.3,661.62 L463.96,660.77 L463.64,659.89 L463.36,658.98 L463.1,658.03 L462.89,657.07 L462.7,656.07 L462.55,655.06 L462.43,654.02 L462.34,652.95 L462.29,651.87 Z" stroke-width="1.15" fill="#fff" />
<g clip-path="url(#cFi)"><g clip-path="url(#cR)"><path d="M503.88,813.01 L399.18,754.38 M505.69,809.78 L400.99,751.15 M507.5,806.56 L402.8,747.92 M509.3,803.33 L404.6,744.7 M511.11,800.1 L406.41,741.47 M512.92,796.87 L408.22,738.24 M514.73,793.64 L410.03,735.01 M516.54,790.41 L411.83,731.78 M518.34,787.19 L413.64,728.55 M520.15,783.96 L415.45,725.33 M521.96,780.73 L417.26,722.1 M523.77,777.5 L419.07,718.87 M525.57,774.27 L420.87,715.64 M527.38,771.04 L422.68,712.41 M529.19,767.82 L424.49,709.18 M531,764.59 L426.3,705.96 M532.81,761.36 L428.11,702.73 M534.61,758.13 L429.91,699.5 M536.42,754.9 L431.72,696.27 M538.23,751.68 L433.53,693.04 M540.04,748.45 L435.34,689.81 M541.84,745.22 L437.14,686.59 M543.65,741.99 L438.95,683.36 M545.46,738.76 L440.76,680.13 M547.27,735.53 L442.57,676.9 M549.08,732.31 L444.38,673.67 M550.88,729.08 L446.18,670.45 M552.69,725.85 L447.99,667.22 M554.5,722.62 L449.8,663.99 M556.31,719.39 L451.61,660.76 M558.12,716.16 L453.41,657.53 M559.92,712.94 L455.22,654.3 M561.73,709.71 L457.03,651.08 M563.54,706.48 L458.84,647.85 M565.35,703.25 L460.65,644.62 M567.15,700.02 L462.45,641.39 M568.96,696.79 L464.26,638.16 M570.77,693.57 L466.07,634.93 M572.58,690.34 L467.88,631.71 M574.39,687.11 L469.69,628.48 M576.19,683.88 L471.49,625.25 M578,680.65 L473.3,622.02 M579.81,677.43 L475.11,618.79 M581.62,674.2 L476.92,615.56 M583.43,670.97 L478.72,612.34 M585.23,667.74 L480.53,609.11 M587.04,664.51 L482.34,605.88 M588.85,661.28 L484.15,602.65 M590.66,658.06 L485.96,599.42 M592.46,654.83 L487.76,596.19 M594.27,651.6 L489.57,592.97 M596.08,648.37 L491.38,589.74 M597.89,645.14 L493.19,586.51 M599.7,641.91 L494.99,583.28 M601.5,638.69 L496.8,580.05 M603.31,635.46 L498.61,576.83 M605.12,632.23 L500.42,573.6 M606.93,629 L502.23,570.37 M608.73,625.77 L504.03,567.14 M610.54,622.54 L505.84,563.91 M612.35,619.32 L507.65,560.68 M614.16,616.09 L509.46,557.46 M615.97,612.86 L511.27,554.23 M617.77,609.63 L513.07,551 M619.58,606.4 L514.88,547.77 M621.39,603.17 L516.69,544.54 M623.2,599.95 L518.5,541.31 M625.01,596.72 L520.3,538.09 M626.81,593.49 L522.11,534.86 M628.62,590.26 L523.92,531.63 M630.43,587.03 L525.73,528.4 M632.24,583.81 L527.54,525.17 M634.04,580.58 L529.34,521.94 M635.85,577.35 L531.15,518.72 M637.66,574.12 L532.96,515.49 M639.47,570.89 L534.77,512.26 M641.28,567.66 L536.57,509.03 M643.08,564.44 L538.38,505.8 M644.89,561.21 L540.19,502.57 M646.7,557.98 L542,499.35 M648.51,554.75 L543.81,496.12 M650.31,551.52 L545.61,492.89 M652.12,548.29 L547.42,489.66 M653.93,545.07 L549.23,486.43 M655.74,541.84 L551.04,483.21 M657.55,538.61 L552.85,479.98 M659.35,535.38 L554.65,476.75 M661.16,532.15 L556.46,473.52 M662.97,528.92 L558.27,470.29 M664.78,525.7 L560.08,467.06 M666.59,522.47 L561.88,463.84 M668.39,519.24 L563.69,460.61 M670.2,516.01 L565.5,457.38 M672.01,512.78 L567.31,454.15 M673.82,509.55 L569.12,450.92 M675.62,506.33 L570.92,447.69 M677.43,503.1 L572.73,444.47 M679.24,499.87 L574.54,441.24 M681.05,496.64 L576.35,438.01 M682.86,493.41 L578.16,434.78 M684.66,490.19 L579.96,431.55 M686.47,486.96 L581.77,428.32 M688.28,483.73 L583.58,425.1 M690.09,480.5 L585.39,421.87 M691.89,477.27 L587.19,418.64 M693.7,474.04 L589,415.41 M695.51,470.82 L590.81,412.18 M697.32,467.59 L592.62,408.96 M699.13,464.36 L594.43,405.73 M700.93,461.13 L596.23,402.5 M702.74,457.9 L598.04,399.27 M704.55,454.67 L599.85,396.04 M706.36,451.45 L601.66,392.81 M708.17,448.22 L603.46,389.59 M709.97,444.99 L605.27,386.36 M711.78,441.76 L607.08,383.13 M713.59,438.53 L608.89,379.9 M715.4,435.3 L610.7,376.67 M717.2,432.08 L612.5,373.44 M719.01,428.85 L614.31,370.22" stroke-width="0.85"/></g><path d="M456.63,640.1 L456.64,639.26 L456.67,638.41 L456.74,637.54 L456.82,636.66 L456.93,635.78 L457.07,634.88 L457.23,633.98 L457.42,633.07 L457.63,632.16 L457.86,631.24 L458.12,630.33 L458.4,629.4 L458.71,628.48 L459.04,627.56 L459.39,626.64 L459.76,625.73 L460.15,624.82 L460.57,623.91 L461,623.01 L461.46,622.11 L461.93,621.23 L462.42,620.35 L462.94,619.49 L463.47,618.64 L464.01,617.79 L464.57,616.97 L465.15,616.16 L465.75,615.36 L466.35,614.58 L466.97,613.82 L467.61,613.07 L468.25,612.35 L468.91,611.64 L469.58,610.96 L470.25,610.3 L470.94,609.66 L471.63,609.04 L472.33,608.45 L473.04,607.89 L473.75,607.35 L474.46,606.83 L475.18,606.35 L475.9,605.89 L573.1,547.59 L573.83,547.16 L574.55,546.76 L575.28,546.38 L576,546.04 L576.73,545.73 L577.45,545.44 L578.16,545.19 L578.87,544.97 L579.58,544.78 L580.28,544.62 L580.98,544.5 L581.66,544.4 L582.34,544.34 L583.01,544.31 L583.67,544.31 L584.31,544.35 L584.95,544.41 L585.57,544.51 L586.18,544.64 L586.77,544.8 L587.35,545 L587.92,545.22 L588.47,545.48 L589,545.76 L589.51,546.08 L590.01,546.43 L590.48,546.8 L590.94,547.21 L591.38,547.64 L591.8,548.11 L592.19,548.6 L592.57,549.11 L592.92,549.66 L593.25,550.22 L593.56,550.82 L593.84,551.44 L594.11,552.08 L594.34,552.74 L594.56,553.43 L594.75,554.13 L594.91,554.86 L595.05,555.61 L595.17,556.37 L595.26,557.15 L595.32,557.95 L595.36,558.77 L595.37,559.6 L595.36,560.44 L595.33,561.29 L595.26,562.16 L595.18,563.04 L595.07,563.92 L594.93,564.82 L594.77,565.72 L594.58,566.63 L594.37,567.54 L594.14,568.46 L593.88,569.37 L593.6,570.3 L593.29,571.22 L592.96,572.14 L592.61,573.06 L592.24,573.97 L591.85,574.88 L591.43,575.79 L591,576.69 L590.54,577.59 L590.07,578.47 L589.58,579.35 L589.06,580.21 L588.53,581.06 L587.99,581.91 L587.43,582.73 L586.85,583.54 L586.25,584.34 L585.65,585.12 L585.03,585.88 L584.39,586.63 L583.75,587.35 L583.09,588.06 L582.42,588.74 L581.75,589.4 L581.06,590.04 L580.37,590.66 L579.67,591.25 L578.96,591.81 L578.25,592.35 L577.54,592.87 L576.82,593.35 L576.1,593.81 L478.9,652.11 L478.17,652.54 L477.45,652.94 L476.72,653.32 L476,653.66 L475.27,653.97 L474.55,654.26 L473.84,654.51 L473.13,654.73 L472.42,654.92 L471.72,655.08 L471.02,655.2 L470.34,655.3 L469.66,655.36 L468.99,655.39 L468.33,655.39 L467.69,655.35 L467.05,655.29 L466.43,655.19 L465.82,655.06 L465.23,654.9 L464.65,654.7 L464.08,654.48 L463.53,654.22 L463,653.94 L462.49,653.62 L461.99,653.27 L461.52,652.9 L461.06,652.49 L460.62,652.06 L460.2,651.59 L459.81,651.1 L459.43,650.59 L459.08,650.04 L458.75,649.48 L458.44,648.88 L458.16,648.26 L457.89,647.62 L457.66,646.96 L457.44,646.27 L457.25,645.57 L457.09,644.84 L456.95,644.09 L456.83,643.33 L456.74,642.55 L456.68,641.75 L456.64,640.93 Z" stroke-width="1.1" fill="#fff"/></g>
<path d="M469.13,647.1 L469.14,646.26 L469.17,645.41 L469.24,644.54 L469.32,643.66 L469.43,642.78 L469.57,641.88 L469.73,640.98 L469.92,640.07 L470.13,639.16 L470.36,638.24 L470.62,637.33 L470.9,636.4 L471.21,635.48 L471.54,634.56 L471.89,633.64 L472.26,632.73 L472.65,631.82 L473.07,630.91 L473.5,630.01 L473.96,629.11 L474.43,628.23 L474.92,627.35 L475.44,626.49 L475.97,625.64 L476.51,624.79 L477.07,623.97 L477.65,623.16 L478.25,622.36 L478.85,621.58 L479.47,620.82 L480.11,620.07 L480.75,619.35 L481.41,618.64 L482.08,617.96 L482.75,617.3 L483.44,616.66 L484.13,616.04 L484.83,615.45 L485.54,614.89 L486.25,614.35 L486.96,613.83 L487.68,613.35 L488.4,612.89 L585.6,554.59 L586.33,554.16 L587.05,553.76 L587.78,553.38 L588.5,553.04 L589.23,552.73 L589.95,552.44 L590.66,552.19 L591.37,551.97 L592.08,551.78 L592.78,551.62 L593.48,551.5 L594.16,551.4 L594.84,551.34 L595.51,551.31 L596.17,551.31 L596.81,551.35 L597.45,551.41 L598.07,551.51 L598.68,551.64 L599.27,551.8 L599.85,552 L600.42,552.22 L600.97,552.48 L601.5,552.76 L602.01,553.08 L602.51,553.43 L602.98,553.8 L603.44,554.21 L603.88,554.64 L604.3,555.11 L604.69,555.6 L605.07,556.11 L605.42,556.66 L605.75,557.22 L606.06,557.82 L606.34,558.44 L606.61,559.08 L606.84,559.74 L607.06,560.43 L607.25,561.13 L607.41,561.86 L607.55,562.61 L607.67,563.37 L607.76,564.15 L607.82,564.95 L607.86,565.77 L607.87,566.6 L607.86,567.44 L607.83,568.29 L607.76,569.16 L607.68,570.04 L607.57,570.92 L607.43,571.82 L607.27,572.72 L607.08,573.63 L606.87,574.54 L606.64,575.46 L606.38,576.37 L606.1,577.3 L605.79,578.22 L605.46,579.14 L605.11,580.06 L604.74,580.97 L604.35,581.88 L603.93,582.79 L603.5,583.69 L603.04,584.59 L602.57,585.47 L602.08,586.35 L601.56,587.21 L601.03,588.06 L600.49,588.91 L599.93,589.73 L599.35,590.54 L598.75,591.34 L598.15,592.12 L597.53,592.88 L596.89,593.63 L596.25,594.35 L595.59,595.06 L594.92,595.74 L594.25,596.4 L593.56,597.04 L592.87,597.66 L592.17,598.25 L591.46,598.81 L590.75,599.35 L590.04,599.87 L589.32,600.35 L588.6,600.81 L491.4,659.11 L490.67,659.54 L489.95,659.94 L489.22,660.32 L488.5,660.66 L487.77,660.97 L487.05,661.26 L486.34,661.51 L485.63,661.73 L484.92,661.92 L484.22,662.08 L483.52,662.2 L482.84,662.3 L482.16,662.36 L481.49,662.39 L480.83,662.39 L480.19,662.35 L479.55,662.29 L478.93,662.19 L478.32,662.06 L477.73,661.9 L477.15,661.7 L476.58,661.48 L476.03,661.22 L475.5,660.94 L474.99,660.62 L474.49,660.27 L474.02,659.9 L473.56,659.49 L473.12,659.06 L472.7,658.59 L472.31,658.1 L471.93,657.59 L471.58,657.04 L471.25,656.48 L470.94,655.88 L470.66,655.26 L470.39,654.62 L470.16,653.96 L469.94,653.27 L469.75,652.57 L469.59,651.84 L469.45,651.09 L469.33,650.33 L469.24,649.55 L469.18,648.75 L469.14,647.93 Z" stroke-width="1.15" fill="none" />
<line x1="574" y1="538" x2="579" y2="541" stroke-width="0.8"/>
<line x1="577.2" y1="536.1" x2="582.2" y2="539.1" stroke-width="0.8"/>
<line x1="580.4" y1="534.2" x2="585.4" y2="537.2" stroke-width="0.8"/>
<line x1="489" y1="635" x2="531" y2="660" stroke-width="0.9"/>
<ellipse cx="562" cy="678.5" rx="51.92" ry="33.61" transform="rotate(-60 562 678.5)" stroke-width="1.1" fill="#fff" />
<ellipse cx="563" cy="679.5" rx="49.99" ry="32.28" transform="rotate(-60 563 679.5)" stroke-width="0.9" fill="none" />
<path d="M566.68,684.97 L568.59,687.05 L570.88,688.65 L573.63,689.59 L576.91,689.68 L580.72,688.69 L585.03,686.41 L589.71,682.65 L597.07,686.9 L592.39,690.66 L588.08,692.94 L584.27,693.93 L580.99,693.84 L578.24,692.9 L575.95,691.3 L574.04,689.22 Z" stroke-width="1.3" fill="#fff" />
<path d="M579.14,691.7 L581.89,692.64 L585.17,692.73 L588.98,691.74 L593.29,689.46 L597.97,685.7" stroke-width="0.9" fill="none" />
<path d="M568.76,681.98 L571.27,683.12 L574.07,683.71 L577.23,683.58 L580.75,682.52 L584.61,680.35 L588.71,676.9 L592.86,672.04 L600.22,676.29 L596.07,681.15 L591.97,684.6 L588.11,686.77 L584.59,687.83 L581.43,687.96 L578.63,687.37 L576.12,686.23 Z" stroke-width="1.3" fill="#fff" />
<path d="M582.33,686.76 L585.49,686.63 L589.01,685.57 L592.87,683.4 L596.97,679.95 L601.12,675.09" stroke-width="0.9" fill="none" />
<path d="M564.22,687.44 L565.4,690.33 L567.01,692.83 L569.17,694.78 L571.98,696 L575.49,696.26 L579.72,695.31 L584.6,692.9 L591.97,697.15 L587.08,699.56 L582.85,700.51 L579.34,700.25 L576.53,699.03 L574.37,697.08 L572.76,694.58 L571.58,691.69 Z" stroke-width="1.3" fill="#fff" />
<path d="M575.27,695.88 L577.43,697.83 L580.24,699.05 L583.75,699.31 L587.98,698.36 L592.87,695.95" stroke-width="0.9" fill="none" />
<path d="M570.31,678.69 L573.25,678.81 L576.38,678.35 L579.72,677.15 L583.25,675.02 L586.89,671.82 L590.49,667.43 L593.84,661.81 L601.2,666.06 L597.85,671.68 L594.25,676.07 L590.61,679.27 L587.08,681.4 L583.74,682.6 L580.61,683.06 L577.67,682.94 Z" stroke-width="1.3" fill="#fff" />
<path d="M584.64,681.4 L587.98,680.2 L591.51,678.07 L595.15,674.87 L598.75,670.48 L602.1,664.86" stroke-width="0.9" fill="none" />
<path d="M561.54,689.24 L561.9,692.73 L562.73,695.96 L564.15,698.8 L566.3,701.07 L569.27,702.56 L573.13,703 L577.89,702.11 L585.25,706.36 L580.5,707.25 L576.63,706.81 L573.66,705.32 L571.51,703.05 L570.09,700.21 L569.26,696.98 L568.9,693.49 Z" stroke-width="1.3" fill="#fff" />
<path d="M570.99,699.01 L572.41,701.85 L574.56,704.12 L577.53,705.61 L581.4,706.05 L586.15,705.16" stroke-width="0.9" fill="none" />
<path d="M571.22,675.32 L574.39,674.4 L577.64,672.93 L580.94,670.74 L584.24,667.69 L587.4,663.68 L590.27,658.65 L592.58,652.65 L599.94,656.9 L597.63,662.9 L594.77,667.93 L591.6,671.94 L588.3,674.99 L585,677.18 L581.75,678.65 L578.58,679.57 Z" stroke-width="1.3" fill="#fff" />
<path d="M585.9,675.98 L589.2,673.79 L592.5,670.74 L595.67,666.73 L598.53,661.7 L600.84,655.7" stroke-width="0.9" fill="none" />
<path d="M558.82,690.24 L558.35,694.1 L558.33,697.83 L558.92,701.36 L560.26,704.53 L562.49,707.14 L565.72,708.95 L570.02,709.63 L577.38,713.88 L573.08,713.2 L569.85,711.39 L567.62,708.78 L566.28,705.61 L565.69,702.08 L565.71,698.35 L566.18,694.49 Z" stroke-width="1.3" fill="#fff" />
<path d="M566.59,700.88 L567.18,704.41 L568.52,707.58 L570.75,710.19 L573.98,712 L578.28,712.68" stroke-width="0.9" fill="none" />
<path d="M571.44,672.09 L574.62,670.21 L577.76,667.83 L580.8,664.8 L583.64,661.03 L586.12,656.47 L588.05,651.15 L589.17,645.18 L596.53,649.43 L595.41,655.4 L593.48,660.72 L591,665.28 L588.16,669.05 L585.12,672.08 L581.98,674.46 L578.8,676.34 Z" stroke-width="1.3" fill="#fff" />
<path d="M586.02,670.88 L589.06,667.85 L591.9,664.08 L594.38,659.52 L596.31,654.2 L597.43,648.23" stroke-width="0.9" fill="none" />
<path d="M556.25,690.37 L554.97,694.33 L554.12,698.32 L553.83,702.29 L554.27,706.15 L555.6,709.71 L557.98,712.76 L561.54,714.97 L568.9,719.22 L565.35,717.01 L562.96,713.96 L561.63,710.4 L561.19,706.54 L561.48,702.57 L562.33,698.58 L563.61,694.62 Z" stroke-width="1.3" fill="#fff" />
<path d="M562.38,701.37 L562.09,705.34 L562.53,709.2 L563.86,712.76 L566.25,715.81 L569.8,718.02" stroke-width="0.9" fill="none" />
<path d="M570.94,669.24 L573.92,666.52 L576.74,663.38 L579.31,659.72 L581.49,655.49 L583.12,650.71 L583.99,645.45 L583.84,639.91 L591.2,644.16 L591.35,649.7 L590.48,654.96 L588.85,659.74 L586.67,663.97 L584.1,667.63 L581.28,670.77 L578.3,673.49 Z" stroke-width="1.3" fill="#fff" />
<path d="M585,666.43 L587.57,662.77 L589.75,658.54 L591.38,653.76 L592.25,648.5 L592.1,642.96" stroke-width="0.9" fill="none" />
<path d="M554,689.62 L552.01,693.42 L550.37,697.39 L549.23,701.54 L548.74,705.81 L549.09,710.09 L550.45,714.16 L553.02,717.75 L560.39,722 L557.82,718.41 L556.45,714.34 L556.1,710.06 L556.59,705.79 L557.73,701.64 L559.37,697.67 L561.36,693.87 Z" stroke-width="1.3" fill="#fff" />
<path d="M558.63,700.44 L557.49,704.59 L557,708.86 L557.35,713.14 L558.72,717.21 L561.29,720.8" stroke-width="0.9" fill="none" />
<path d="M569.77,666.95 L572.34,663.58 L574.65,659.89 L576.57,655.85 L577.95,651.45 L578.62,646.76 L578.36,641.93 L576.95,637.2 L584.31,641.45 L585.72,646.18 L585.98,651.01 L585.32,655.7 L583.93,660.1 L582.01,664.14 L579.7,667.83 L577.13,671.2 Z" stroke-width="1.3" fill="#fff" />
<path d="M582.91,662.94 L584.83,658.9 L586.22,654.5 L586.88,649.81 L586.62,644.98 L585.21,640.25" stroke-width="0.9" fill="none" />
<path d="M552.23,688.05 L549.66,691.42 L547.35,695.11 L545.43,699.15 L544.05,703.55 L543.38,708.24 L543.64,713.07 L545.05,717.8 L552.41,722.05 L551,717.32 L550.74,712.49 L551.41,707.8 L552.79,703.4 L554.71,699.36 L557.02,695.67 L559.59,692.3 Z" stroke-width="1.3" fill="#fff" />
<path d="M555.61,698.16 L553.69,702.2 L552.31,706.6 L551.64,711.29 L551.9,716.12 L553.31,720.85" stroke-width="0.9" fill="none" />
<path d="M568,665.38 L569.99,661.58 L571.63,657.61 L572.77,653.46 L573.26,649.19 L572.91,644.91 L571.55,640.84 L568.98,637.25 L576.34,641.5 L578.91,645.09 L580.27,649.16 L580.62,653.44 L580.13,657.71 L578.99,661.86 L577.35,665.83 L575.36,669.63 Z" stroke-width="1.3" fill="#fff" />
<path d="M579.89,660.66 L581.03,656.51 L581.52,652.24 L581.17,647.96 L579.81,643.89 L577.24,640.3" stroke-width="0.9" fill="none" />
<path d="M551.06,685.76 L548.08,688.48 L545.26,691.62 L542.69,695.28 L540.51,699.51 L538.88,704.29 L538.01,709.55 L538.16,715.09 L545.52,719.34 L545.38,713.8 L546.24,708.54 L547.87,703.76 L550.05,699.53 L552.62,695.87 L555.44,692.73 L558.42,690.01 Z" stroke-width="1.3" fill="#fff" />
<path d="M553.52,694.67 L550.95,698.33 L548.77,702.56 L547.14,707.34 L546.28,712.6 L546.42,718.14" stroke-width="0.9" fill="none" />
<path d="M565.75,664.63 L567.03,660.67 L567.88,656.68 L568.17,652.71 L567.73,648.85 L566.4,645.29 L564.02,642.24 L560.46,640.03 L567.82,644.28 L571.38,646.49 L573.76,649.54 L575.09,653.1 L575.53,656.96 L575.25,660.93 L574.39,664.92 L573.11,668.88 Z" stroke-width="1.3" fill="#fff" />
<path d="M576.15,659.73 L576.43,655.76 L575.99,651.9 L574.66,648.34 L572.28,645.29 L568.72,643.08" stroke-width="0.9" fill="none" />
<path d="M550.56,682.91 L547.38,684.79 L544.24,687.17 L541.2,690.2 L538.36,693.97 L535.88,698.53 L533.95,703.85 L532.83,709.82 L540.19,714.07 L541.31,708.1 L543.24,702.78 L545.73,698.22 L548.56,694.45 L551.6,691.42 L554.74,689.04 L557.92,687.16 Z" stroke-width="1.3" fill="#fff" />
<path d="M552.5,690.22 L549.46,693.25 L546.63,697.02 L544.14,701.58 L542.21,706.9 L541.09,712.87" stroke-width="0.9" fill="none" />
<path d="M563.18,664.76 L563.65,660.9 L563.67,657.17 L563.08,653.64 L561.74,650.47 L559.51,647.86 L556.28,646.05 L551.98,645.37 L559.34,649.62 L563.64,650.3 L566.87,652.11 L569.1,654.72 L570.44,657.89 L571.03,661.42 L571.01,665.15 L570.54,669.01 Z" stroke-width="1.3" fill="#fff" />
<path d="M571.93,660.22 L571.34,656.69 L570,653.52 L567.77,650.91 L564.54,649.1 L560.24,648.42" stroke-width="0.9" fill="none" />
<path d="M550.78,679.68 L547.61,680.6 L544.36,682.07 L541.06,684.26 L537.76,687.31 L534.6,691.32 L531.73,696.35 L529.42,702.35 L536.78,706.6 L539.09,700.6 L541.96,695.57 L545.13,691.56 L548.42,688.51 L551.73,686.32 L554.97,684.85 L558.14,683.93 Z" stroke-width="1.3" fill="#fff" />
<path d="M552.63,685.12 L549.32,687.31 L546.03,690.36 L542.86,694.37 L539.99,699.4 L537.68,705.4" stroke-width="0.9" fill="none" />
<path d="M560.46,665.76 L560.1,662.27 L559.27,659.04 L557.85,656.2 L555.7,653.93 L552.73,652.44 L548.87,652 L544.11,652.89 L551.47,657.14 L556.23,656.25 L560.09,656.69 L563.06,658.18 L565.21,660.45 L566.63,663.29 L567.46,666.52 L567.82,670.01 Z" stroke-width="1.3" fill="#fff" />
<path d="M567.53,662.09 L566.11,659.25 L563.96,656.98 L560.99,655.49 L557.13,655.05 L552.37,655.94" stroke-width="0.9" fill="none" />
<path d="M551.69,676.31 L548.75,676.19 L545.62,676.65 L542.28,677.85 L538.75,679.98 L535.11,683.18 L531.51,687.57 L528.16,693.19 L535.52,697.44 L538.87,691.82 L542.47,687.43 L546.11,684.23 L549.64,682.1 L552.98,680.9 L556.11,680.44 L559.05,680.56 Z" stroke-width="1.3" fill="#fff" />
<path d="M553.88,679.7 L550.54,680.9 L547.01,683.03 L543.37,686.23 L539.77,690.62 L536.42,696.24" stroke-width="0.9" fill="none" />
<path d="M557.78,667.56 L556.6,664.67 L554.99,662.17 L552.83,660.22 L550.02,659 L546.51,658.74 L542.28,659.69 L537.4,662.1 L544.76,666.35 L549.64,663.94 L553.87,662.99 L557.39,663.25 L560.19,664.47 L562.36,666.42 L563.96,668.92 L565.14,671.81 Z" stroke-width="1.3" fill="#fff" />
<path d="M563.26,665.22 L561.09,663.27 L558.29,662.05 L554.77,661.79 L550.54,662.74 L545.66,665.15" stroke-width="0.9" fill="none" />
<path d="M553.24,673.02 L550.73,671.88 L547.93,671.29 L544.77,671.42 L541.25,672.48 L537.39,674.65 L533.29,678.1 L529.14,682.96 L536.5,687.21 L540.66,682.35 L544.75,678.9 L548.61,676.73 L552.13,675.67 L555.29,675.54 L558.09,676.13 L560.6,677.27 Z" stroke-width="1.3" fill="#fff" />
<path d="M556.19,674.34 L553.03,674.47 L549.51,675.53 L545.65,677.7 L541.56,681.15 L537.4,686.01" stroke-width="0.9" fill="none" />
<path d="M555.32,670.03 L553.41,667.95 L551.12,666.35 L548.37,665.41 L545.09,665.32 L541.28,666.31 L536.97,668.59 L532.29,672.35 L539.65,676.6 L544.33,672.84 L548.64,670.56 L552.46,669.57 L555.73,669.66 L558.49,670.6 L560.77,672.2 L562.68,674.28 Z" stroke-width="1.3" fill="#fff" />
<path d="M559.39,669.4 L556.63,668.46 L553.36,668.37 L549.54,669.36 L545.23,671.64 L540.55,675.4" stroke-width="0.9" fill="none" />
<ellipse cx="568.36" cy="681.75" rx="14.5" ry="9.28" transform="rotate(-60 568.36 681.75)" stroke-width="0" fill="#fff" stroke="none"/>
<ellipse cx="571" cy="651" rx="3.4" ry="2.6" transform="rotate(-60 571 651)" stroke-width="1.1" fill="#fff" />
<path d="M573.53,648.96 L575.53,652.96 L570.47,657.04 L568.47,653.04 Z" stroke-width="0" fill="#fff" stroke="none"/>
<line x1="573.53" y1="648.96" x2="575.53" y2="652.96" stroke-width="1.1"/>
<line x1="568.47" y1="653.04" x2="570.47" y2="657.04" stroke-width="1.1"/>
<ellipse cx="573" cy="655" rx="3.4" ry="2.6" transform="rotate(-60 573 655)" stroke-width="1.1" fill="#fff" />
<ellipse cx="568.36" cy="682.25" rx="11.17" ry="8.15" transform="rotate(-60 568.36 682.25)" stroke-width="1.3" fill="#fff" />
<ellipse cx="568.36" cy="682.25" rx="8.65" ry="5.6" transform="rotate(-60 568.36 682.25)" stroke-width="2.2" fill="none" />
<line x1="564.86" y1="675.75" x2="567.36" y2="687.75" stroke-width="0.8"/>
<line x1="566.36" y1="676.15" x2="568.86" y2="688.15" stroke-width="0.8"/>
<line x1="567.86" y1="676.55" x2="570.36" y2="688.55" stroke-width="0.8"/>
<line x1="569.36" y1="676.95" x2="571.86" y2="688.95" stroke-width="0.8"/>
<line x1="570.86" y1="677.35" x2="573.36" y2="689.35" stroke-width="0.8"/>
<path d="M179,704.4 L191.6,687 L192.4,691 L210.5,680.5 L213.8,682 L214.5,697 L194.5,707.5 L193.6,712.4 Z" stroke-width="1.25" fill="#fff" />
<path d="M192.4,691 L194.5,693.5 L211.5,683.5 M194.5,693.5 L194.5,707.5 M210.5,680.5 L211.5,683.5 L212,697.8" stroke-width="0.9" fill="none" />
<text x="0" y="0" font-size="11" font-weight="bold" font-style="italic" text-anchor="middle" dominant-baseline="central" transform="translate(203.5 696) rotate(-29) scale(0.74 1)" style="stroke-width:0.2">FWD</text>
<text x="227" y="125" font-size="11.5" text-anchor="middle" dominant-baseline="central">12</text>
<text x="301" y="131" font-size="11.5" text-anchor="middle" dominant-baseline="central">11</text>
<text x="312.5" y="172.5" font-size="11.5" text-anchor="middle" dominant-baseline="central">12</text>
<text x="337.5" y="186" font-size="11.5" text-anchor="middle" dominant-baseline="central">13</text>
<text x="362.5" y="201" font-size="11.5" text-anchor="middle" dominant-baseline="central">13</text>
<text x="389" y="216" font-size="11.5" text-anchor="middle" dominant-baseline="central">16</text>
<text x="437.5" y="245" font-size="11.5" text-anchor="middle" dominant-baseline="central">15</text>
<text x="358" y="67.5" font-size="11.5" text-anchor="middle" dominant-baseline="central">20</text>
<text x="356" y="136" font-size="11.5" text-anchor="middle" dominant-baseline="central">18</text>
<text x="475" y="76" font-size="11.5" text-anchor="middle" dominant-baseline="central">19</text>
<text x="397.5" y="151" font-size="11.5" text-anchor="middle" dominant-baseline="central">19</text>
<text x="416" y="169.5" font-size="11.5" text-anchor="middle" dominant-baseline="central">19</text>
<text x="477" y="155" font-size="11.5" text-anchor="middle" dominant-baseline="central">19</text>
<text x="451" y="179" font-size="11.5" text-anchor="middle" dominant-baseline="central">19</text>
<text x="516" y="266" font-size="11.5" text-anchor="middle" dominant-baseline="central">17</text>
<text x="546" y="306" font-size="11.5" text-anchor="middle" dominant-baseline="central">21</text>
<text x="605" y="306" font-size="11.5" text-anchor="middle" dominant-baseline="central">22</text>
<text x="229" y="417.5" font-size="11.5" text-anchor="middle" dominant-baseline="central">5</text>
<text x="299" y="436" font-size="11.5" text-anchor="middle" dominant-baseline="central">5</text>
<text x="317.5" y="464" font-size="11.5" text-anchor="middle" dominant-baseline="central">3</text>
<text x="340" y="476" font-size="11.5" text-anchor="middle" dominant-baseline="central">3</text>
<text x="161" y="492.5" font-size="11.5" text-anchor="middle" dominant-baseline="central">7</text>
<text x="184" y="502.5" font-size="11.5" text-anchor="middle" dominant-baseline="central">6</text>
<text x="181" y="547.5" font-size="11.5" text-anchor="middle" dominant-baseline="central">5</text>
<text x="210" y="566" font-size="11.5" text-anchor="middle" dominant-baseline="central">4</text>
<text x="261" y="574" font-size="11.5" text-anchor="middle" dominant-baseline="central">5</text>
<text x="311" y="577.5" font-size="11.5" text-anchor="middle" dominant-baseline="central">2</text>
<text x="396" y="626" font-size="11.5" text-anchor="middle" dominant-baseline="central">2</text>
<text x="325" y="645" font-size="11.5" text-anchor="middle" dominant-baseline="central">1</text>
<text x="447.5" y="442.5" font-size="11.5" text-anchor="middle" dominant-baseline="central">10</text>
<text x="507.5" y="449" font-size="11.5" text-anchor="middle" dominant-baseline="central">14</text>
<text x="530" y="474" font-size="11.5" text-anchor="middle" dominant-baseline="central">14</text>
<text x="550" y="512.5" font-size="11.5" text-anchor="middle" dominant-baseline="central">23</text>
<text x="454" y="572.5" font-size="11.5" text-anchor="middle" dominant-baseline="central">14</text>
<text x="510" y="564" font-size="11.5" text-anchor="middle" dominant-baseline="central">14</text>
<text x="444" y="700" font-size="11.5" text-anchor="middle" dominant-baseline="central">8</text>
<text x="505" y="726" font-size="11.5" text-anchor="middle" dominant-baseline="central">9</text>
<text x="200.5" y="724.5" font-size="11.5" text-anchor="middle" dominant-baseline="central" letter-spacing="0.2">5RUJ300-F140</text>
</svg></body></html>
